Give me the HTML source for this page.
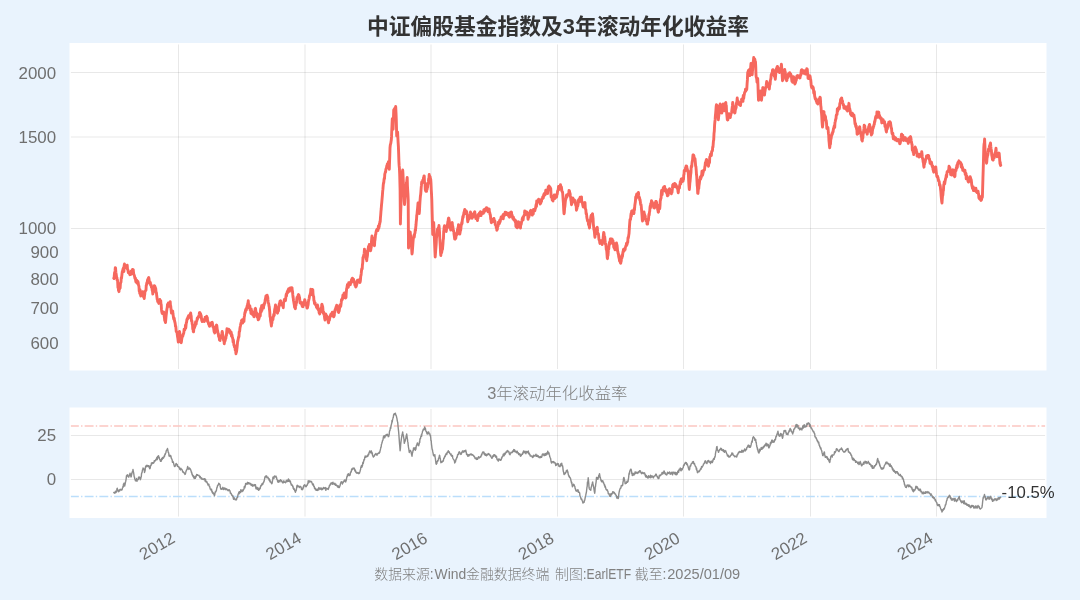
<!DOCTYPE html>
<html lang="zh-CN"><head><meta charset="utf-8"><title>中证偏股基金指数及3年滚动年化收益率</title>
<style>html,body{margin:0;padding:0;background:#e9f3fd;}body{width:1080px;height:600px;overflow:hidden;}</style>
</head><body>
<svg width="1080" height="600" viewBox="0 0 1080 600" style="display:block;font-family:'Liberation Sans','Noto Sans CJK SC',sans-serif">
<rect width="1080" height="600" fill="#e9f3fd"/>
<rect x="69.5" y="43.0" width="977.0" height="327.5" fill="#fff"/>
<rect x="69.5" y="407.5" width="977.0" height="110.5" fill="#fff"/>
<path d="M178.5,44.4V369.1M178.5,408.9V516.6M305.0,44.4V369.1M305.0,408.9V516.6M431.0,44.4V369.1M431.0,408.9V516.6M557.5,44.4V369.1M557.5,408.9V516.6M683.5,44.4V369.1M683.5,408.9V516.6M810.5,44.4V369.1M810.5,408.9V516.6M936.5,44.4V369.1M936.5,408.9V516.6" fill="none" stroke="#e8e8e8" stroke-width="1.06"/>
<path d="M70.9,72.5H1045.1M70.9,137.0H1045.1M70.9,228.5H1045.1M70.9,435.5H1045.1M70.9,479.5H1045.1" fill="none" stroke="#000" stroke-opacity="0.09" stroke-width="1.06"/>
<clipPath id="cb"><rect x="70.9" y="407.5" width="974.2" height="110.5"/></clipPath>
<g clip-path="url(#cb)" fill="none" stroke-width="1.39" stroke-dasharray="8.89 2.22 1.39 2.22">
<path d="M69.95,426H1047" stroke="#fcc6c1"/>
<path d="M69.95,496.5H1047" stroke="#bbdefb"/>
</g>
<path d="M113.80,492.40 L114.07,492.62 L114.34,493.23 L114.61,492.74 L114.89,492.77 L115.16,492.38 L115.43,491.25 L115.70,492.70 L115.95,492.11 L116.20,492.15 L116.45,491.50 L116.70,490.65 L116.95,488.73 L117.20,488.20 L117.47,489.36 L117.75,490.61 L118.03,490.01 L118.30,491.70 L118.57,490.93 L118.84,491.65 L119.11,490.20 L119.39,490.85 L119.66,490.85 L119.93,489.34 L120.20,489.70 L120.49,489.69 L120.77,489.32 L121.06,490.01 L121.34,489.81 L121.63,489.95 L121.91,489.98 L122.20,489.30 L122.45,487.94 L122.70,487.44 L122.95,486.52 L123.20,487.10 L123.45,484.17 L123.70,484.50 L123.95,483.15 L124.20,483.17 L124.45,485.71 L124.70,486.00 L124.95,484.72 L125.20,483.73 L125.45,482.20 L125.70,481.24 L125.95,480.03 L126.20,478.50 L126.47,475.71 L126.75,475.91 L127.03,476.07 L127.30,474.70 L127.60,475.81 L127.90,475.88 L128.20,476.59 L128.50,477.00 L128.75,477.04 L129.00,475.95 L129.25,474.75 L129.50,475.55 L129.75,474.93 L130.00,473.20 L130.25,474.00 L130.50,475.67 L130.75,475.30 L131.00,477.00 L131.29,476.35 L131.57,474.73 L131.86,473.53 L132.14,472.12 L132.43,471.60 L132.71,470.90 L133.00,469.50 L133.30,471.28 L133.60,472.68 L133.90,474.49 L134.20,477.00 L134.45,476.92 L134.70,478.67 L134.95,479.25 L135.20,479.89 L135.45,480.74 L135.70,480.70 L135.96,480.57 L136.21,480.54 L136.47,478.53 L136.73,480.49 L136.99,481.29 L137.24,479.56 L137.50,480.00 L137.75,479.20 L138.00,479.55 L138.25,479.56 L138.50,477.25 L138.75,478.35 L139.00,477.00 L139.25,477.04 L139.50,478.06 L139.75,477.58 L140.00,477.93 L140.25,479.75 L140.50,479.20 L140.76,478.66 L141.01,476.94 L141.27,476.82 L141.53,473.79 L141.79,472.80 L142.04,472.65 L142.30,471.00 L142.55,469.72 L142.80,469.53 L143.05,467.95 L143.30,469.15 L143.55,469.52 L143.80,468.70 L144.03,469.35 L144.27,469.90 L144.50,472.50 L144.80,471.64 L145.10,470.66 L145.40,467.34 L145.70,466.50 L145.96,466.42 L146.21,465.41 L146.47,466.75 L146.72,465.49 L146.98,466.52 L147.23,466.26 L147.49,465.42 L147.74,465.51 L148.00,465.70 L148.27,465.70 L148.54,466.77 L148.81,465.70 L149.09,466.26 L149.36,466.21 L149.63,468.67 L149.90,468.70 L150.16,468.18 L150.41,466.77 L150.67,465.38 L150.92,465.10 L151.18,465.19 L151.43,462.95 L151.69,463.52 L151.94,463.81 L152.20,462.70 L152.46,463.61 L152.71,462.80 L152.97,462.96 L153.23,463.18 L153.49,462.39 L153.74,462.77 L154.00,462.70 L154.28,460.70 L154.55,461.40 L154.82,461.03 L155.10,460.45 L155.38,460.72 L155.65,459.78 L155.92,459.74 L156.20,459.00 L156.46,459.83 L156.71,457.63 L156.97,458.75 L157.22,459.63 L157.48,456.44 L157.73,457.27 L157.99,458.00 L158.24,456.24 L158.50,455.70 L158.77,456.49 L159.04,457.02 L159.31,457.80 L159.59,459.23 L159.86,459.57 L160.13,459.99 L160.40,461.20 L160.66,460.70 L160.92,459.64 L161.18,461.31 L161.44,460.59 L161.70,458.55 L161.96,459.47 L162.22,459.42 L162.48,457.56 L162.74,457.64 L163.00,457.50 L163.28,458.26 L163.55,457.53 L163.82,457.53 L164.10,456.22 L164.38,455.59 L164.65,456.27 L164.92,454.04 L165.20,454.50 L165.46,453.36 L165.71,453.32 L165.97,452.37 L166.22,450.90 L166.48,450.29 L166.73,450.14 L166.99,449.51 L167.24,449.21 L167.50,448.50 L167.75,450.00 L168.00,450.92 L168.25,452.49 L168.50,452.43 L168.75,453.26 L169.00,456.00 L169.26,455.96 L169.51,455.20 L169.77,455.99 L170.03,456.55 L170.29,455.78 L170.54,455.39 L170.80,456.00 L171.07,456.80 L171.34,458.33 L171.61,458.51 L171.88,459.37 L172.15,459.73 L172.42,462.19 L172.69,462.23 L172.96,461.44 L173.23,462.04 L173.50,462.70 L173.75,464.18 L174.00,464.63 L174.25,465.86 L174.50,466.45 L174.75,466.46 L175.00,466.50 L175.30,465.76 L175.60,465.61 L175.90,463.74 L176.20,463.50 L176.46,464.28 L176.71,464.57 L176.97,464.61 L177.23,464.41 L177.49,466.31 L177.74,465.95 L178.00,466.50 L178.27,466.60 L178.55,466.91 L178.82,466.74 L179.09,467.33 L179.36,468.09 L179.64,469.00 L179.91,468.74 L180.18,469.56 L180.45,469.94 L180.73,468.19 L181.00,468.70 L181.28,469.11 L181.55,469.22 L181.82,469.38 L182.10,470.09 L182.38,470.27 L182.65,471.92 L182.92,471.75 L183.20,471.70 L183.49,472.47 L183.77,472.88 L184.06,472.58 L184.34,472.98 L184.63,473.27 L184.91,474.43 L185.20,474.30 L185.48,473.48 L185.76,472.44 L186.03,471.12 L186.31,470.86 L186.59,469.80 L186.87,469.61 L187.14,469.15 L187.42,467.53 L187.70,466.50 L187.96,468.88 L188.21,467.72 L188.47,468.85 L188.72,468.75 L188.98,469.41 L189.23,468.48 L189.49,467.98 L189.74,468.63 L190.00,468.70 L190.28,468.90 L190.55,469.37 L190.82,470.21 L191.10,471.04 L191.38,472.42 L191.65,472.01 L191.92,474.09 L192.20,474.00 L192.46,475.36 L192.71,476.08 L192.97,475.71 L193.22,475.50 L193.48,477.23 L193.73,476.81 L193.99,477.61 L194.24,478.51 L194.50,477.70 L194.77,476.82 L195.05,476.19 L195.32,478.30 L195.59,476.94 L195.86,477.08 L196.14,476.33 L196.41,476.06 L196.68,474.49 L196.95,475.41 L197.23,474.64 L197.50,474.70 L197.78,475.39 L198.05,475.22 L198.32,475.42 L198.60,475.45 L198.88,475.25 L199.15,475.91 L199.42,476.38 L199.70,477.00 L199.97,477.71 L200.24,476.37 L200.51,477.77 L200.79,478.11 L201.06,477.56 L201.33,478.59 L201.60,479.01 L201.87,478.12 L202.14,479.01 L202.41,479.19 L202.69,479.14 L202.96,479.23 L203.23,479.06 L203.50,479.20 L203.76,479.47 L204.03,478.72 L204.29,479.51 L204.56,479.54 L204.82,478.67 L205.09,481.08 L205.35,480.67 L205.61,479.52 L205.88,481.89 L206.14,481.39 L206.41,482.01 L206.67,482.13 L206.94,481.77 L207.20,483.00 L207.47,483.09 L207.75,484.00 L208.02,485.01 L208.29,485.14 L208.56,484.21 L208.84,484.17 L209.11,485.64 L209.38,486.69 L209.65,486.39 L209.93,487.62 L210.20,489.00 L210.46,489.13 L210.73,489.18 L210.99,490.08 L211.26,489.46 L211.52,489.14 L211.79,491.03 L212.05,491.96 L212.32,491.65 L212.58,493.12 L212.85,492.47 L213.11,492.60 L213.38,493.82 L213.64,493.44 L213.91,494.15 L214.17,494.82 L214.44,495.72 L214.70,495.00 L214.97,493.19 L215.25,491.77 L215.52,492.16 L215.79,491.37 L216.06,490.84 L216.34,490.79 L216.61,489.16 L216.88,487.95 L217.15,487.36 L217.43,486.07 L217.70,485.20 L217.96,485.55 L218.21,484.88 L218.47,484.47 L218.72,483.30 L218.98,484.27 L219.23,483.69 L219.49,483.95 L219.74,484.48 L220.00,484.50 L220.23,486.57 L220.47,487.61 L220.70,489.00 L220.97,488.51 L221.24,488.72 L221.51,489.16 L221.79,488.55 L222.06,489.18 L222.33,488.57 L222.60,488.12 L222.87,487.31 L223.14,488.35 L223.41,489.22 L223.69,489.58 L223.96,488.40 L224.23,487.89 L224.50,488.20 L224.76,489.05 L225.03,488.37 L225.29,489.07 L225.56,488.36 L225.82,489.71 L226.09,488.70 L226.35,488.91 L226.62,489.02 L226.88,489.04 L227.15,489.79 L227.41,489.66 L227.68,490.16 L227.94,490.45 L228.21,490.82 L228.47,490.00 L228.74,489.80 L229.00,489.70 L229.26,489.85 L229.53,490.34 L229.79,490.86 L230.06,490.95 L230.32,493.10 L230.59,492.67 L230.85,493.55 L231.11,493.37 L231.38,493.97 L231.64,494.86 L231.91,495.34 L232.17,494.97 L232.44,495.78 L232.70,496.50 L232.97,495.90 L233.24,497.82 L233.51,499.20 L233.78,497.32 L234.05,499.01 L234.32,498.02 L234.58,499.08 L234.85,499.04 L235.12,499.78 L235.39,499.28 L235.66,499.70 L235.93,499.33 L236.20,499.80 L236.48,499.83 L236.76,498.44 L237.03,497.67 L237.31,497.14 L237.59,497.34 L237.87,495.45 L238.14,494.16 L238.42,493.96 L238.70,492.70 L238.96,492.06 L239.23,493.74 L239.49,491.72 L239.76,492.50 L240.02,491.48 L240.29,492.34 L240.55,492.63 L240.82,489.78 L241.08,490.97 L241.35,491.05 L241.61,490.83 L241.88,490.25 L242.14,491.68 L242.41,490.58 L242.67,489.87 L242.94,491.00 L243.20,490.50 L243.47,489.85 L243.75,489.46 L244.02,488.79 L244.29,486.52 L244.56,487.57 L244.84,487.77 L245.11,486.61 L245.38,485.54 L245.65,483.39 L245.93,484.65 L246.20,483.70 L246.46,483.82 L246.71,484.02 L246.97,483.89 L247.22,483.05 L247.48,482.31 L247.73,484.02 L247.99,483.18 L248.24,482.85 L248.50,482.70 L248.77,482.83 L249.05,483.73 L249.32,483.20 L249.59,483.03 L249.86,483.61 L250.14,484.11 L250.41,484.21 L250.68,483.37 L250.95,485.11 L251.23,484.28 L251.50,485.30 L251.75,485.63 L252.00,485.40 L252.25,484.46 L252.50,485.69 L252.75,486.29 L253.00,486.00 L253.28,485.47 L253.55,485.27 L253.82,485.41 L254.10,484.55 L254.38,485.50 L254.65,485.69 L254.92,484.82 L255.20,485.20 L255.45,484.70 L255.70,487.17 L255.95,488.73 L256.20,486.97 L256.45,488.24 L256.70,488.70 L256.96,488.76 L257.21,489.26 L257.47,489.18 L257.72,487.53 L257.98,489.33 L258.23,489.77 L258.49,490.29 L258.74,489.28 L259.00,490.20 L259.25,488.27 L259.50,489.40 L259.75,489.09 L260.00,488.40 L260.25,488.27 L260.50,486.70 L260.77,485.79 L261.05,485.22 L261.32,485.83 L261.60,484.63 L261.88,484.95 L262.15,483.48 L262.43,483.46 L262.70,484.50 L262.96,483.51 L263.21,482.93 L263.47,482.76 L263.72,482.12 L263.98,481.62 L264.23,480.79 L264.49,479.31 L264.74,478.03 L265.00,477.00 L265.27,476.39 L265.54,476.99 L265.81,476.04 L266.08,476.36 L266.35,476.05 L266.62,476.00 L266.89,477.75 L267.16,477.88 L267.43,477.10 L267.70,477.30 L267.98,477.21 L268.26,478.15 L268.53,478.48 L268.81,479.01 L269.09,480.21 L269.37,478.94 L269.64,479.72 L269.92,481.73 L270.20,480.70 L270.45,482.16 L270.70,481.88 L270.95,482.20 L271.20,482.21 L271.45,483.45 L271.70,483.70 L271.95,483.56 L272.20,482.72 L272.45,480.81 L272.70,479.64 L272.95,477.25 L273.20,477.00 L273.46,477.80 L273.71,477.10 L273.97,478.42 L274.22,476.73 L274.48,475.97 L274.73,476.52 L274.99,476.16 L275.24,476.13 L275.50,476.70 L275.77,476.98 L276.05,476.15 L276.32,477.63 L276.59,477.52 L276.86,479.40 L277.14,479.35 L277.41,480.21 L277.68,481.93 L277.95,480.41 L278.23,480.81 L278.50,482.20 L278.77,481.35 L279.05,480.86 L279.32,480.72 L279.60,481.57 L279.88,481.81 L280.15,480.71 L280.43,479.76 L280.70,480.00 L280.95,480.24 L281.20,480.68 L281.45,480.83 L281.70,481.33 L281.95,481.03 L282.20,482.20 L282.47,482.72 L282.75,482.62 L283.02,482.02 L283.29,482.88 L283.56,481.51 L283.84,480.84 L284.11,481.23 L284.38,481.86 L284.65,482.40 L284.93,482.39 L285.20,482.20 L285.47,482.78 L285.75,481.73 L286.02,481.94 L286.29,480.41 L286.56,481.81 L286.84,481.38 L287.11,480.13 L287.38,481.17 L287.65,480.56 L287.93,481.45 L288.20,480.70 L288.46,478.94 L288.71,481.37 L288.97,480.92 L289.22,479.85 L289.48,481.20 L289.73,481.37 L289.99,482.10 L290.24,480.94 L290.50,481.80 L290.77,483.33 L291.05,484.09 L291.32,484.96 L291.60,484.49 L291.88,484.52 L292.15,485.44 L292.43,485.47 L292.70,486.70 L292.97,486.03 L293.24,488.52 L293.51,488.37 L293.78,489.39 L294.05,488.32 L294.32,489.58 L294.59,490.39 L294.86,490.30 L295.13,491.71 L295.40,492.30 L295.66,491.53 L295.91,489.86 L296.17,490.53 L296.43,489.09 L296.69,487.31 L296.94,485.72 L297.20,485.20 L297.47,485.80 L297.75,486.85 L298.02,485.70 L298.29,486.59 L298.56,486.55 L298.84,486.43 L299.11,486.46 L299.38,487.64 L299.65,486.42 L299.93,486.59 L300.20,486.70 L300.46,486.36 L300.71,486.40 L300.97,487.36 L301.22,487.79 L301.48,489.23 L301.73,489.56 L301.99,488.45 L302.24,489.61 L302.50,489.70 L302.76,488.28 L303.01,488.92 L303.27,486.82 L303.53,487.51 L303.79,485.51 L304.04,485.42 L304.30,485.20 L304.57,484.80 L304.84,484.80 L305.11,485.20 L305.39,486.60 L305.66,486.27 L305.93,486.61 L306.20,486.70 L306.46,486.06 L306.71,485.27 L306.97,485.36 L307.22,485.17 L307.48,483.84 L307.73,483.94 L307.99,482.38 L308.24,480.60 L308.50,481.50 L308.77,482.72 L309.05,482.29 L309.32,481.04 L309.59,481.64 L309.86,481.13 L310.14,481.22 L310.41,481.81 L310.68,481.49 L310.95,481.25 L311.23,482.16 L311.50,482.20 L311.77,481.98 L312.05,483.04 L312.32,483.85 L312.60,484.72 L312.88,484.94 L313.15,483.94 L313.43,484.36 L313.70,486.00 L313.97,486.67 L314.25,486.33 L314.52,488.28 L314.79,487.62 L315.06,488.37 L315.34,489.58 L315.61,488.63 L315.88,489.15 L316.15,490.29 L316.43,489.47 L316.70,489.70 L316.97,490.18 L317.24,490.41 L317.51,489.15 L317.79,489.34 L318.06,490.25 L318.33,488.92 L318.60,488.19 L318.87,487.60 L319.14,488.68 L319.41,488.13 L319.69,488.47 L319.96,489.44 L320.23,488.53 L320.50,488.20 L320.76,488.24 L321.03,487.86 L321.29,489.19 L321.56,488.71 L321.82,489.70 L322.09,489.48 L322.35,489.45 L322.61,488.62 L322.88,488.26 L323.14,488.14 L323.41,487.96 L323.67,487.42 L323.94,488.74 L324.20,488.20 L324.47,488.53 L324.74,487.90 L325.01,488.06 L325.29,487.59 L325.56,487.79 L325.83,490.39 L326.10,488.08 L326.37,488.35 L326.64,488.46 L326.91,488.70 L327.19,488.96 L327.46,488.47 L327.73,488.55 L328.00,489.00 L328.27,489.39 L328.55,488.43 L328.82,487.49 L329.10,487.07 L329.38,485.59 L329.65,485.18 L329.93,485.44 L330.20,484.50 L330.47,483.85 L330.75,484.20 L331.02,482.84 L331.29,483.37 L331.56,482.95 L331.84,483.51 L332.11,483.06 L332.38,484.27 L332.65,482.81 L332.93,482.22 L333.20,483.40 L333.47,483.30 L333.75,483.80 L334.02,484.28 L334.29,484.38 L334.56,484.50 L334.84,483.22 L335.11,484.16 L335.38,484.29 L335.65,485.41 L335.93,484.20 L336.20,485.20 L336.46,485.52 L336.72,485.48 L336.98,485.86 L337.24,485.47 L337.50,486.90 L337.76,486.63 L338.02,487.30 L338.28,486.41 L338.54,485.88 L338.80,487.50 L339.07,486.53 L339.34,487.49 L339.61,486.85 L339.88,486.12 L340.15,485.27 L340.42,484.02 L340.69,483.29 L340.96,482.62 L341.23,481.77 L341.50,482.20 L341.77,482.50 L342.05,481.88 L342.32,484.03 L342.59,482.64 L342.86,482.40 L343.14,482.67 L343.41,481.85 L343.68,481.71 L343.95,480.99 L344.23,480.44 L344.50,480.00 L344.75,481.05 L345.00,479.92 L345.25,481.64 L345.50,481.77 L345.75,481.91 L346.00,480.70 L346.25,480.45 L346.50,478.57 L346.75,477.31 L347.00,476.38 L347.25,476.71 L347.50,474.70 L347.77,474.84 L348.05,473.92 L348.32,475.07 L348.60,473.73 L348.88,475.53 L349.15,474.62 L349.43,474.88 L349.70,475.50 L349.96,475.21 L350.21,474.42 L350.47,472.43 L350.72,472.43 L350.98,471.56 L351.23,471.94 L351.49,470.03 L351.74,469.02 L352.00,469.50 L352.25,469.82 L352.50,469.27 L352.75,468.89 L353.00,467.86 L353.25,467.88 L353.50,468.70 L353.77,468.78 L354.05,468.59 L354.32,468.14 L354.60,469.48 L354.88,470.99 L355.15,469.84 L355.43,470.32 L355.70,471.70 L355.97,472.42 L356.25,471.99 L356.52,472.96 L356.79,473.12 L357.06,473.24 L357.34,472.60 L357.61,472.91 L357.88,472.77 L358.15,473.28 L358.43,473.53 L358.70,473.70 L358.97,472.57 L359.25,473.41 L359.52,473.08 L359.79,471.95 L360.06,471.17 L360.34,470.09 L360.61,469.32 L360.88,466.94 L361.15,467.44 L361.43,465.49 L361.70,466.50 L361.95,467.19 L362.20,465.65 L362.45,465.82 L362.70,463.24 L362.95,462.26 L363.20,463.50 L363.45,462.32 L363.70,461.12 L363.95,459.70 L364.20,459.31 L364.45,459.83 L364.70,457.50 L364.96,457.25 L365.21,455.98 L365.47,457.22 L365.72,457.26 L365.98,456.47 L366.23,456.29 L366.49,456.59 L366.74,456.82 L367.00,456.70 L367.27,456.03 L367.55,455.33 L367.82,456.27 L368.10,454.68 L368.38,454.07 L368.65,454.80 L368.93,453.67 L369.20,452.20 L369.46,451.80 L369.71,450.96 L369.97,451.47 L370.22,451.96 L370.48,452.54 L370.73,452.81 L370.99,451.86 L371.24,450.83 L371.50,451.50 L371.77,452.64 L372.05,453.82 L372.32,453.01 L372.60,455.44 L372.88,456.04 L373.15,456.47 L373.43,457.10 L373.70,456.00 L373.97,456.46 L374.25,456.01 L374.52,455.47 L374.79,454.69 L375.06,454.57 L375.34,453.93 L375.61,454.55 L375.88,453.52 L376.15,454.32 L376.43,454.21 L376.70,454.50 L376.97,455.24 L377.25,454.03 L377.52,453.75 L377.79,453.78 L378.06,453.62 L378.34,453.09 L378.61,453.20 L378.88,453.25 L379.15,453.34 L379.43,451.93 L379.70,452.70 L379.99,451.19 L380.27,450.07 L380.56,448.92 L380.84,447.14 L381.13,447.29 L381.41,444.47 L381.70,444.00 L381.96,442.64 L382.23,442.10 L382.49,440.56 L382.75,440.44 L383.01,439.72 L383.27,437.76 L383.54,436.26 L383.80,436.50 L384.07,435.67 L384.34,437.26 L384.61,437.86 L384.89,437.24 L385.16,436.58 L385.43,435.24 L385.70,435.70 L385.95,435.20 L386.20,435.11 L386.45,434.59 L386.70,435.49 L386.95,434.71 L387.20,434.20 L387.45,434.29 L387.70,434.88 L387.95,434.88 L388.20,436.67 L388.45,435.78 L388.70,436.50 L388.95,435.16 L389.20,434.41 L389.45,431.58 L389.70,430.70 L389.95,430.54 L390.20,429.00 L390.46,427.27 L390.71,428.32 L390.97,426.37 L391.22,425.16 L391.48,424.04 L391.73,423.31 L391.99,420.49 L392.24,421.99 L392.50,420.00 L392.77,418.92 L393.04,417.59 L393.31,417.51 L393.59,414.91 L393.86,414.29 L394.13,413.66 L394.40,413.70 L394.66,414.65 L394.91,413.35 L395.17,414.49 L395.43,413.26 L395.69,414.76 L395.94,415.32 L396.20,415.50 L396.45,416.40 L396.70,417.61 L396.95,418.58 L397.20,420.28 L397.45,421.47 L397.70,422.20 L398.00,425.73 L398.30,428.75 L398.60,431.40 L398.90,435.00 L399.20,439.08 L399.50,443.36 L399.80,446.68 L400.10,450.70 L400.38,448.72 L400.66,444.75 L400.94,442.14 L401.22,440.17 L401.50,438.00 L401.80,436.06 L402.10,435.07 L402.40,433.32 L402.70,432.00 L402.96,433.95 L403.21,434.82 L403.47,436.34 L403.73,437.83 L403.99,439.42 L404.24,443.29 L404.50,443.00 L404.77,440.67 L405.05,441.26 L405.32,440.05 L405.60,438.85 L405.88,438.53 L406.15,435.81 L406.43,435.43 L406.70,434.00 L406.95,435.54 L407.20,437.75 L407.45,439.19 L407.70,441.64 L407.95,442.40 L408.20,445.20 L408.48,447.27 L408.75,448.57 L409.02,450.76 L409.30,452.50 L409.55,450.88 L409.80,450.74 L410.05,450.88 L410.30,450.31 L410.55,451.02 L410.80,451.00 L411.10,451.95 L411.40,453.81 L411.70,454.79 L412.00,456.20 L412.26,454.14 L412.51,452.69 L412.77,452.11 L413.03,450.34 L413.29,450.33 L413.54,447.86 L413.80,448.00 L414.07,447.96 L414.33,448.64 L414.60,449.52 L414.87,448.83 L415.13,447.73 L415.40,450.20 L415.66,448.24 L415.91,449.07 L416.17,446.73 L416.43,445.47 L416.69,445.49 L416.94,444.26 L417.20,443.50 L417.45,442.85 L417.70,444.69 L417.95,444.79 L418.20,444.39 L418.45,444.21 L418.70,445.70 L418.95,444.32 L419.20,443.99 L419.45,441.74 L419.70,442.50 L419.95,438.75 L420.20,439.00 L420.49,438.76 L420.77,436.75 L421.06,436.00 L421.34,434.81 L421.63,436.21 L421.91,433.67 L422.20,433.00 L422.47,431.62 L422.75,430.93 L423.02,430.47 L423.30,429.23 L423.57,429.86 L423.85,429.43 L424.12,429.74 L424.40,428.50 L424.66,426.89 L424.92,428.27 L425.18,427.94 L425.44,428.56 L425.70,430.17 L425.96,430.93 L426.22,431.64 L426.48,431.54 L426.74,432.79 L427.00,433.70 L427.26,432.51 L427.51,433.08 L427.77,434.01 L428.03,433.55 L428.29,431.94 L428.54,431.92 L428.80,432.20 L429.07,433.70 L429.34,433.68 L429.61,433.79 L429.89,433.92 L430.16,435.62 L430.43,435.55 L430.70,437.50 L430.95,440.69 L431.20,440.53 L431.45,444.07 L431.70,445.96 L431.95,448.10 L432.20,449.50 L432.45,449.77 L432.70,451.39 L432.95,452.62 L433.20,453.87 L433.45,455.37 L433.70,455.50 L433.98,456.06 L434.25,455.11 L434.52,455.11 L434.80,454.70 L435.10,457.10 L435.40,458.86 L435.70,461.24 L436.00,463.70 L436.27,464.29 L436.55,462.68 L436.82,463.63 L437.10,461.54 L437.38,461.45 L437.65,460.51 L437.93,461.04 L438.20,460.00 L438.45,458.89 L438.70,457.98 L438.95,458.11 L439.20,456.69 L439.45,455.27 L439.70,455.50 L440.00,457.82 L440.30,458.47 L440.60,461.10 L440.90,462.70 L441.16,462.07 L441.42,461.99 L441.68,461.47 L441.94,462.19 L442.20,461.78 L442.46,461.80 L442.72,460.90 L442.98,461.45 L443.24,461.01 L443.50,460.00 L443.77,458.46 L444.05,457.97 L444.32,457.98 L444.60,456.83 L444.88,456.02 L445.15,456.56 L445.43,455.14 L445.70,454.70 L445.96,454.51 L446.21,453.44 L446.47,454.38 L446.72,454.46 L446.98,453.65 L447.23,452.35 L447.49,452.02 L447.74,452.37 L448.00,451.70 L448.27,450.79 L448.55,451.96 L448.82,452.28 L449.10,452.49 L449.38,451.93 L449.65,453.37 L449.93,453.45 L450.20,454.00 L450.49,453.90 L450.77,454.84 L451.06,453.92 L451.34,455.74 L451.63,456.04 L451.91,456.22 L452.20,455.50 L452.48,455.61 L452.76,457.94 L453.03,458.56 L453.31,458.97 L453.59,459.35 L453.87,459.77 L454.14,460.23 L454.42,460.90 L454.70,463.00 L454.96,462.44 L455.21,461.80 L455.47,461.97 L455.72,460.58 L455.98,458.96 L456.23,459.04 L456.49,459.01 L456.74,457.30 L457.00,457.00 L457.27,457.14 L457.55,454.74 L457.82,454.50 L458.10,454.24 L458.38,454.50 L458.65,452.68 L458.93,452.41 L459.20,451.70 L459.45,452.63 L459.70,452.11 L459.95,452.86 L460.20,454.03 L460.45,453.13 L460.70,454.00 L460.96,454.45 L461.21,453.50 L461.47,453.70 L461.72,452.27 L461.98,452.64 L462.23,452.15 L462.49,450.95 L462.74,451.62 L463.00,451.00 L463.28,451.40 L463.56,452.20 L463.83,451.92 L464.11,451.89 L464.39,450.75 L464.67,451.04 L464.94,451.46 L465.22,451.35 L465.50,450.70 L465.76,450.15 L466.01,452.14 L466.27,451.97 L466.52,454.47 L466.78,453.77 L467.03,454.45 L467.29,454.32 L467.54,455.51 L467.80,456.20 L468.07,456.13 L468.34,455.27 L468.61,454.64 L468.88,456.04 L469.15,455.06 L469.42,454.85 L469.69,454.39 L469.96,454.98 L470.23,454.53 L470.50,454.30 L470.77,453.85 L471.05,453.96 L471.32,454.80 L471.59,454.52 L471.86,454.33 L472.14,455.17 L472.41,454.69 L472.68,454.76 L472.95,455.18 L473.23,455.27 L473.50,455.50 L473.76,456.20 L474.03,455.91 L474.29,456.78 L474.56,456.75 L474.82,457.31 L475.09,458.55 L475.35,458.59 L475.61,458.37 L475.88,458.29 L476.14,458.08 L476.41,459.43 L476.67,458.91 L476.94,458.00 L477.20,459.20 L477.47,459.23 L477.75,458.83 L478.02,458.04 L478.29,457.78 L478.56,456.67 L478.84,457.35 L479.11,457.26 L479.38,457.96 L479.65,457.16 L479.93,457.31 L480.20,457.00 L480.47,456.47 L480.75,457.01 L481.02,456.31 L481.29,455.07 L481.56,454.59 L481.84,455.01 L482.11,453.19 L482.38,452.91 L482.65,452.20 L482.93,452.03 L483.20,452.20 L483.47,452.78 L483.75,451.88 L484.02,453.99 L484.29,452.96 L484.56,454.26 L484.84,454.86 L485.11,453.89 L485.38,455.37 L485.65,453.84 L485.93,453.84 L486.20,454.70 L486.47,455.86 L486.75,455.02 L487.02,454.77 L487.29,454.59 L487.56,454.98 L487.84,454.71 L488.11,453.51 L488.38,454.21 L488.65,453.62 L488.93,454.20 L489.20,454.00 L489.47,454.72 L489.75,454.99 L490.02,455.47 L490.29,456.04 L490.56,455.27 L490.84,456.56 L491.11,456.98 L491.38,457.31 L491.65,457.84 L491.93,458.38 L492.20,457.00 L492.47,457.94 L492.75,456.08 L493.02,455.79 L493.29,456.04 L493.56,456.31 L493.84,454.61 L494.11,455.72 L494.38,454.64 L494.65,455.56 L494.93,455.98 L495.20,455.20 L495.46,455.74 L495.71,457.13 L495.97,457.06 L496.22,457.53 L496.48,456.15 L496.73,458.18 L496.99,459.29 L497.24,459.61 L497.50,460.00 L497.77,459.27 L498.05,459.22 L498.32,461.11 L498.59,459.83 L498.86,459.00 L499.14,459.15 L499.41,459.08 L499.68,459.30 L499.95,460.06 L500.23,460.25 L500.50,460.40 L500.77,460.20 L501.05,460.10 L501.32,459.30 L501.60,457.71 L501.88,457.98 L502.15,456.76 L502.43,456.68 L502.70,456.20 L502.97,456.13 L503.25,454.20 L503.52,454.49 L503.79,454.68 L504.06,455.76 L504.34,453.11 L504.61,454.71 L504.88,454.38 L505.15,454.13 L505.43,453.71 L505.70,453.20 L505.96,451.84 L506.21,451.83 L506.47,452.16 L506.72,451.98 L506.98,452.15 L507.23,450.46 L507.49,451.33 L507.74,450.95 L508.00,451.00 L508.26,451.10 L508.51,451.86 L508.77,451.64 L509.03,451.98 L509.29,453.93 L509.54,453.54 L509.80,454.70 L510.06,454.79 L510.32,453.30 L510.58,453.25 L510.85,453.05 L511.11,452.16 L511.37,452.41 L511.63,452.74 L511.89,452.57 L512.15,452.56 L512.42,452.12 L512.68,451.40 L512.94,450.74 L513.20,450.70 L513.47,451.43 L513.74,449.57 L514.01,450.64 L514.29,451.48 L514.56,449.80 L514.83,451.18 L515.10,451.54 L515.37,451.71 L515.64,451.12 L515.91,452.20 L516.19,452.36 L516.46,451.48 L516.73,452.88 L517.00,452.50 L517.26,451.27 L517.53,452.85 L517.79,452.88 L518.06,453.16 L518.32,452.82 L518.59,454.48 L518.85,453.99 L519.11,453.64 L519.38,453.65 L519.64,454.73 L519.91,453.90 L520.17,454.22 L520.44,456.28 L520.70,455.20 L520.96,455.90 L521.21,455.86 L521.47,454.77 L521.72,454.86 L521.98,454.20 L522.23,453.63 L522.49,454.27 L522.74,453.38 L523.00,452.20 L523.26,452.81 L523.53,450.91 L523.79,451.63 L524.06,451.51 L524.32,452.73 L524.59,451.36 L524.85,451.82 L525.11,451.34 L525.38,452.27 L525.64,453.22 L525.91,453.76 L526.17,451.75 L526.44,452.42 L526.70,451.40 L526.97,452.42 L527.25,451.84 L527.52,452.58 L527.79,451.49 L528.06,451.41 L528.34,451.09 L528.61,453.75 L528.88,453.05 L529.15,452.94 L529.43,454.44 L529.70,454.70 L529.97,454.27 L530.25,456.04 L530.52,456.12 L530.79,456.13 L531.06,456.07 L531.34,455.96 L531.61,455.95 L531.88,456.31 L532.15,456.23 L532.43,457.57 L532.70,457.00 L532.97,457.31 L533.24,456.60 L533.51,455.30 L533.79,456.48 L534.06,456.07 L534.33,455.82 L534.60,455.41 L534.87,455.62 L535.14,455.91 L535.41,455.84 L535.69,455.18 L535.96,454.22 L536.23,456.25 L536.50,455.50 L536.76,456.23 L537.03,455.14 L537.29,456.25 L537.56,455.52 L537.82,456.47 L538.09,456.80 L538.35,455.87 L538.61,457.05 L538.88,457.19 L539.14,457.45 L539.41,457.43 L539.67,457.15 L539.94,456.81 L540.20,457.70 L540.47,456.44 L540.75,457.43 L541.02,457.27 L541.29,456.73 L541.56,457.36 L541.84,456.63 L542.11,455.14 L542.38,454.17 L542.65,453.89 L542.93,454.76 L543.20,454.30 L543.47,454.02 L543.75,454.54 L544.02,455.56 L544.29,454.40 L544.56,455.40 L544.84,455.45 L545.11,453.55 L545.38,454.60 L545.65,455.15 L545.93,453.79 L546.20,454.70 L546.46,454.81 L546.71,454.33 L546.97,452.62 L547.22,453.21 L547.48,453.31 L547.73,451.15 L547.99,453.86 L548.24,452.32 L548.50,452.50 L548.75,452.58 L549.00,452.99 L549.25,454.41 L549.50,455.06 L549.75,456.58 L550.00,457.00 L550.25,457.71 L550.50,458.24 L550.75,459.51 L551.00,461.40 L551.25,462.20 L551.50,463.00 L551.77,462.97 L552.05,461.82 L552.33,462.00 L552.60,461.76 L552.88,461.71 L553.15,461.57 L553.43,462.28 L553.70,461.70 L553.96,462.80 L554.21,462.08 L554.47,462.39 L554.72,462.85 L554.98,462.78 L555.23,462.91 L555.49,464.37 L555.74,465.54 L556.00,464.70 L556.27,464.56 L556.55,464.16 L556.83,465.13 L557.10,463.37 L557.38,464.48 L557.65,464.28 L557.93,463.57 L558.20,463.70 L558.45,464.54 L558.70,465.18 L558.95,466.29 L559.20,466.03 L559.45,466.40 L559.70,466.20 L559.99,466.75 L560.27,465.80 L560.56,463.94 L560.84,465.12 L561.13,465.60 L561.41,463.98 L561.70,463.20 L561.98,464.87 L562.26,465.89 L562.53,465.70 L562.81,467.14 L563.09,469.87 L563.37,471.55 L563.64,472.29 L563.92,474.22 L564.20,474.50 L564.46,473.50 L564.72,473.84 L564.98,472.88 L565.24,473.72 L565.50,472.55 L565.76,472.84 L566.02,472.19 L566.28,470.78 L566.54,471.10 L566.80,470.70 L567.07,470.20 L567.34,470.04 L567.61,472.24 L567.89,471.85 L568.16,473.84 L568.43,475.10 L568.70,475.20 L568.99,476.65 L569.27,476.17 L569.56,477.30 L569.84,477.14 L570.13,477.92 L570.41,477.99 L570.70,479.30 L570.95,480.48 L571.20,481.69 L571.45,482.99 L571.70,482.10 L571.95,484.03 L572.20,485.70 L572.46,486.72 L572.71,485.53 L572.97,485.53 L573.23,485.65 L573.49,484.24 L573.74,484.60 L574.00,484.70 L574.27,485.19 L574.55,486.12 L574.83,486.46 L575.10,488.30 L575.38,488.74 L575.65,489.99 L575.93,490.90 L576.20,490.20 L576.47,490.46 L576.75,491.28 L577.02,490.57 L577.29,489.98 L577.56,490.95 L577.84,490.87 L578.11,489.82 L578.38,492.35 L578.65,491.27 L578.93,492.04 L579.20,492.50 L579.46,492.48 L579.71,493.42 L579.97,496.05 L580.22,496.21 L580.48,497.03 L580.73,497.39 L580.99,499.09 L581.24,499.23 L581.50,499.20 L581.77,499.09 L582.04,500.34 L582.31,501.00 L582.59,501.45 L582.86,502.97 L583.13,502.59 L583.40,502.70 L583.66,501.91 L583.91,502.29 L584.17,502.26 L584.43,499.88 L584.69,500.35 L584.94,499.19 L585.20,497.70 L585.45,496.15 L585.70,495.44 L585.95,494.23 L586.20,493.00 L586.45,491.85 L586.70,489.50 L586.95,487.24 L587.20,486.35 L587.45,481.99 L587.70,481.57 L587.95,481.06 L588.20,477.80 L588.48,480.46 L588.75,483.33 L589.02,487.20 L589.30,488.70 L589.55,489.22 L589.80,489.26 L590.05,489.55 L590.30,489.97 L590.55,489.19 L590.80,490.20 L591.07,487.99 L591.34,486.84 L591.61,486.37 L591.89,484.48 L592.16,484.52 L592.43,482.57 L592.70,482.00 L592.99,484.59 L593.27,485.01 L593.56,486.76 L593.84,488.33 L594.13,490.23 L594.41,491.75 L594.70,493.20 L594.96,491.31 L595.21,486.95 L595.47,486.71 L595.73,484.11 L595.99,482.85 L596.24,480.61 L596.50,477.50 L596.75,478.86 L597.00,477.43 L597.25,478.22 L597.50,478.35 L597.75,479.36 L598.00,479.00 L598.25,477.23 L598.50,477.84 L598.75,475.40 L599.00,476.30 L599.25,474.34 L599.50,473.70 L599.75,475.09 L600.00,477.12 L600.25,477.17 L600.50,478.45 L600.75,479.21 L601.00,480.50 L601.27,480.13 L601.55,481.73 L601.83,480.76 L602.10,481.17 L602.38,481.47 L602.65,480.63 L602.93,481.18 L603.20,482.70 L603.46,482.30 L603.71,483.17 L603.97,484.04 L604.22,484.12 L604.48,485.52 L604.73,484.90 L604.99,487.11 L605.24,486.27 L605.50,487.20 L605.77,488.20 L606.05,489.46 L606.33,489.39 L606.60,489.75 L606.88,490.21 L607.15,490.56 L607.43,489.89 L607.70,491.00 L607.99,491.65 L608.27,493.68 L608.56,493.42 L608.84,493.87 L609.13,493.79 L609.41,495.06 L609.70,496.20 L609.96,496.35 L610.21,496.11 L610.47,496.42 L610.73,494.33 L610.99,493.61 L611.24,495.10 L611.50,494.00 L611.75,493.55 L612.00,494.19 L612.25,493.27 L612.50,493.17 L612.75,491.59 L613.00,492.50 L613.27,491.81 L613.55,491.99 L613.83,493.12 L614.10,493.01 L614.38,492.46 L614.65,493.78 L614.93,493.93 L615.20,494.00 L615.47,493.87 L615.75,494.79 L616.02,495.30 L616.29,495.31 L616.56,496.36 L616.84,498.10 L617.11,497.36 L617.38,498.07 L617.65,496.80 L617.93,497.22 L618.20,498.50 L618.50,497.61 L618.80,494.27 L619.10,492.38 L619.40,491.00 L619.66,489.91 L619.91,489.08 L620.17,488.80 L620.43,487.96 L620.69,488.04 L620.94,488.03 L621.20,485.70 L621.45,485.95 L621.70,485.70 L621.95,485.76 L622.20,485.07 L622.45,485.68 L622.70,485.00 L622.98,482.02 L623.25,481.23 L623.52,478.25 L623.80,477.50 L624.07,477.92 L624.33,479.37 L624.60,480.27 L624.87,481.10 L625.13,483.80 L625.40,483.50 L625.66,483.08 L625.92,483.42 L626.18,483.38 L626.44,482.72 L626.70,482.34 L626.96,481.21 L627.22,481.30 L627.48,482.30 L627.74,481.53 L628.00,481.70 L628.30,479.39 L628.60,477.80 L628.90,474.58 L629.20,473.00 L629.46,474.04 L629.71,471.38 L629.97,471.14 L630.23,470.34 L630.49,469.33 L630.74,469.90 L631.00,469.20 L631.25,469.79 L631.50,471.19 L631.75,473.46 L632.00,473.19 L632.25,475.54 L632.50,475.20 L632.77,475.12 L633.05,473.23 L633.33,473.72 L633.60,473.70 L633.88,475.15 L634.15,474.61 L634.43,474.10 L634.70,473.70 L634.96,472.53 L635.21,471.80 L635.47,473.59 L635.72,472.37 L635.98,472.46 L636.23,472.30 L636.49,473.06 L636.74,472.37 L637.00,473.00 L637.27,473.45 L637.54,473.04 L637.81,472.21 L638.08,472.03 L638.35,472.04 L638.62,472.86 L638.89,471.43 L639.16,471.68 L639.43,471.20 L639.70,470.70 L639.96,471.36 L640.21,472.01 L640.47,471.04 L640.73,471.80 L640.99,472.29 L641.24,473.12 L641.50,473.70 L641.77,473.23 L642.05,472.72 L642.33,472.29 L642.60,473.12 L642.88,472.61 L643.15,473.49 L643.43,473.13 L643.70,473.00 L643.97,473.11 L644.25,473.60 L644.52,472.80 L644.79,473.41 L645.06,475.22 L645.34,474.60 L645.61,476.90 L645.88,475.14 L646.15,475.70 L646.43,475.42 L646.70,477.20 L646.97,477.19 L647.25,477.46 L647.52,477.69 L647.79,476.65 L648.06,478.16 L648.34,476.68 L648.61,475.60 L648.88,476.57 L649.15,476.56 L649.43,477.20 L649.70,476.70 L649.97,477.45 L650.24,475.94 L650.51,475.16 L650.79,477.80 L651.06,476.83 L651.33,476.27 L651.60,475.92 L651.87,477.14 L652.14,475.83 L652.41,476.65 L652.69,476.57 L652.96,476.81 L653.23,477.74 L653.50,477.80 L653.77,476.51 L654.04,476.17 L654.31,476.12 L654.58,476.14 L654.85,475.71 L655.12,475.66 L655.39,475.68 L655.66,474.21 L655.93,475.08 L656.20,474.20 L656.46,475.18 L656.73,475.84 L656.99,476.46 L657.25,476.22 L657.51,477.67 L657.77,477.37 L658.04,477.17 L658.30,478.50 L658.57,478.04 L658.84,478.49 L659.11,477.44 L659.38,475.15 L659.65,475.49 L659.92,475.43 L660.19,475.75 L660.46,474.91 L660.73,475.41 L661.00,474.80 L661.27,474.26 L661.55,473.88 L661.82,473.31 L662.09,472.55 L662.36,474.06 L662.64,472.55 L662.91,473.13 L663.18,473.65 L663.45,472.30 L663.73,472.26 L664.00,471.00 L664.27,471.19 L664.55,472.66 L664.82,473.48 L665.09,472.72 L665.36,474.05 L665.64,474.45 L665.91,474.25 L666.18,474.29 L666.45,473.98 L666.73,474.94 L667.00,474.20 L667.27,473.48 L667.55,472.27 L667.82,473.62 L668.09,473.07 L668.36,472.75 L668.64,473.29 L668.91,473.00 L669.18,473.05 L669.45,472.00 L669.73,472.16 L670.00,473.30 L670.26,474.40 L670.53,472.91 L670.79,473.74 L671.06,473.82 L671.32,473.43 L671.59,472.54 L671.85,472.22 L672.11,473.92 L672.38,473.73 L672.64,474.80 L672.91,472.28 L673.17,472.99 L673.44,472.69 L673.70,472.20 L673.97,473.12 L674.24,472.76 L674.51,472.65 L674.79,473.94 L675.06,472.25 L675.33,473.16 L675.60,474.50 L675.87,474.34 L676.14,472.67 L676.41,474.71 L676.69,472.84 L676.96,474.45 L677.23,473.98 L677.50,473.30 L677.77,471.24 L678.05,472.23 L678.33,470.68 L678.60,472.34 L678.88,470.74 L679.15,469.32 L679.43,470.14 L679.70,469.20 L679.97,469.26 L680.25,468.05 L680.52,469.75 L680.79,470.43 L681.06,470.85 L681.34,469.83 L681.61,468.71 L681.88,469.16 L682.15,469.84 L682.43,468.55 L682.70,468.20 L682.97,467.80 L683.25,467.53 L683.52,465.59 L683.79,464.87 L684.06,465.57 L684.34,464.36 L684.61,464.11 L684.88,463.26 L685.15,463.48 L685.43,462.38 L685.70,462.50 L685.95,462.44 L686.20,463.17 L686.45,462.86 L686.70,464.61 L686.95,463.38 L687.20,464.70 L687.49,464.66 L687.77,465.64 L688.06,466.51 L688.34,467.78 L688.63,468.75 L688.91,469.77 L689.20,469.70 L689.46,469.91 L689.71,468.92 L689.97,465.99 L690.23,466.56 L690.49,465.84 L690.74,465.85 L691.00,464.30 L691.27,463.95 L691.55,463.42 L691.83,463.44 L692.10,463.27 L692.38,462.06 L692.65,463.10 L692.93,461.83 L693.20,462.20 L693.46,461.56 L693.71,463.37 L693.97,463.88 L694.22,464.03 L694.48,463.51 L694.73,464.51 L694.99,465.21 L695.24,466.20 L695.50,466.20 L695.77,466.98 L696.05,467.04 L696.33,469.32 L696.60,468.16 L696.88,470.59 L697.15,470.72 L697.43,472.57 L697.70,472.70 L697.96,472.16 L698.21,471.60 L698.47,471.18 L698.72,471.63 L698.98,471.17 L699.23,471.65 L699.49,470.37 L699.74,470.78 L700.00,470.00 L700.27,469.87 L700.55,468.64 L700.83,468.99 L701.10,469.18 L701.38,467.07 L701.65,466.39 L701.93,467.49 L702.20,466.40 L702.46,466.51 L702.71,466.12 L702.97,465.52 L703.22,465.27 L703.48,463.95 L703.73,463.98 L703.99,463.50 L704.24,463.55 L704.50,462.50 L704.77,461.91 L705.05,461.14 L705.32,460.76 L705.59,461.59 L705.86,461.92 L706.14,463.04 L706.41,462.45 L706.68,463.11 L706.95,463.59 L707.23,461.78 L707.50,461.00 L707.77,461.19 L708.05,460.74 L708.33,461.74 L708.60,460.41 L708.88,460.85 L709.15,461.71 L709.43,462.19 L709.70,462.20 L709.97,462.29 L710.25,461.96 L710.52,463.59 L710.79,462.22 L711.06,461.16 L711.34,462.34 L711.61,461.63 L711.88,462.03 L712.15,461.04 L712.43,462.51 L712.70,460.70 L712.96,461.09 L713.21,459.13 L713.47,459.15 L713.72,458.41 L713.98,459.12 L714.23,459.29 L714.49,457.92 L714.74,456.82 L715.00,457.20 L715.26,455.70 L715.51,453.42 L715.77,451.80 L716.03,450.66 L716.29,450.27 L716.54,447.58 L716.80,446.70 L717.05,446.58 L717.30,449.64 L717.55,450.16 L717.80,450.34 L718.05,450.54 L718.30,452.00 L718.57,452.28 L718.83,451.21 L719.10,450.78 L719.37,450.41 L719.63,449.52 L719.90,449.50 L720.17,448.97 L720.43,449.66 L720.70,448.20 L720.98,449.31 L721.26,448.55 L721.53,448.71 L721.81,450.40 L722.09,449.56 L722.37,449.93 L722.64,450.08 L722.92,450.80 L723.20,451.20 L723.46,449.76 L723.71,451.57 L723.97,451.73 L724.22,451.43 L724.48,452.24 L724.73,451.65 L724.99,450.40 L725.24,451.62 L725.50,450.80 L725.77,450.95 L726.05,451.86 L726.33,452.83 L726.60,453.57 L726.88,453.89 L727.15,454.45 L727.43,455.91 L727.70,455.70 L727.96,456.30 L728.21,455.24 L728.47,456.35 L728.72,457.03 L728.98,457.05 L729.23,457.03 L729.49,456.87 L729.74,456.33 L730.00,456.80 L730.27,456.17 L730.54,455.44 L730.81,455.35 L731.08,455.41 L731.35,454.40 L731.62,454.55 L731.89,452.85 L732.16,454.59 L732.43,453.81 L732.70,453.20 L732.96,454.12 L733.23,455.14 L733.49,455.26 L733.75,455.25 L734.01,455.58 L734.27,456.16 L734.54,456.69 L734.80,456.80 L735.07,456.20 L735.34,456.53 L735.61,456.64 L735.88,456.34 L736.15,456.17 L736.42,456.74 L736.69,457.03 L736.96,456.36 L737.23,454.57 L737.50,455.00 L737.77,454.64 L738.05,453.39 L738.33,452.70 L738.60,452.39 L738.88,452.98 L739.15,451.54 L739.43,451.78 L739.70,452.00 L739.97,451.52 L740.25,452.25 L740.52,452.19 L740.79,451.62 L741.06,451.58 L741.34,452.32 L741.61,450.96 L741.88,450.14 L742.15,450.45 L742.43,451.60 L742.70,451.20 L742.97,452.21 L743.25,450.78 L743.52,450.48 L743.79,451.41 L744.06,450.23 L744.34,449.82 L744.61,448.87 L744.88,449.91 L745.15,450.25 L745.43,450.92 L745.70,449.70 L745.96,449.28 L746.22,449.73 L746.48,449.65 L746.74,447.67 L747.00,447.60 L747.26,447.17 L747.52,446.64 L747.78,446.24 L748.04,445.65 L748.30,445.20 L748.57,445.12 L748.84,445.32 L749.11,447.30 L749.39,446.84 L749.66,445.95 L749.93,447.20 L750.20,446.70 L750.45,447.15 L750.70,446.27 L750.95,445.26 L751.20,444.41 L751.45,442.84 L751.70,442.20 L751.96,440.96 L752.21,442.17 L752.47,440.18 L752.73,438.38 L752.99,437.11 L753.24,437.83 L753.50,436.70 L753.78,437.45 L754.07,437.67 L754.35,437.99 L754.63,438.39 L754.92,440.29 L755.20,439.20 L755.45,440.40 L755.70,439.34 L755.95,442.39 L756.20,442.16 L756.45,444.38 L756.70,446.00 L756.96,447.11 L757.21,447.31 L757.47,449.30 L757.73,448.90 L757.99,451.08 L758.24,451.43 L758.50,452.70 L758.77,452.21 L759.05,452.97 L759.33,451.63 L759.60,449.28 L759.88,450.80 L760.15,450.95 L760.43,449.58 L760.70,449.00 L760.97,449.46 L761.25,447.35 L761.52,448.34 L761.79,449.33 L762.06,448.65 L762.34,447.64 L762.61,448.72 L762.88,447.16 L763.15,446.86 L763.43,447.93 L763.70,446.70 L763.96,446.10 L764.22,446.74 L764.48,446.56 L764.74,445.00 L765.00,445.70 L765.26,445.56 L765.52,444.70 L765.78,444.37 L766.04,443.12 L766.30,443.70 L766.57,443.95 L766.84,446.02 L767.11,443.85 L767.38,444.35 L767.65,445.44 L767.92,445.36 L768.19,444.46 L768.46,446.47 L768.73,447.79 L769.00,447.80 L769.27,446.33 L769.55,447.01 L769.82,445.30 L770.09,445.36 L770.36,442.73 L770.64,442.23 L770.91,443.86 L771.18,442.71 L771.45,442.42 L771.73,440.18 L772.00,440.70 L772.27,440.20 L772.55,441.29 L772.83,442.18 L773.10,441.28 L773.38,442.04 L773.65,441.05 L773.93,442.27 L774.20,441.80 L774.46,441.03 L774.71,439.49 L774.97,439.48 L775.22,439.94 L775.48,439.76 L775.73,437.68 L775.99,436.32 L776.24,436.77 L776.50,436.20 L776.80,434.54 L777.10,434.11 L777.40,432.91 L777.70,432.20 L777.96,431.25 L778.21,432.91 L778.47,435.00 L778.73,434.16 L778.99,435.32 L779.24,436.08 L779.50,435.50 L779.77,436.31 L780.05,435.57 L780.33,435.57 L780.60,433.43 L780.88,435.59 L781.15,433.60 L781.43,435.14 L781.70,434.70 L781.97,435.57 L782.23,437.19 L782.50,438.20 L782.75,437.56 L783.00,435.79 L783.25,433.57 L783.50,433.53 L783.75,432.99 L784.00,430.70 L784.27,430.42 L784.55,431.29 L784.83,430.80 L785.10,431.10 L785.38,431.17 L785.65,430.46 L785.93,432.80 L786.20,432.50 L786.45,434.41 L786.70,433.40 L786.95,433.72 L787.20,434.01 L787.45,434.30 L787.70,434.00 L787.97,434.72 L788.24,432.64 L788.51,432.22 L788.78,432.32 L789.05,430.65 L789.32,431.30 L789.59,429.83 L789.86,429.27 L790.13,428.50 L790.40,428.70 L790.66,429.82 L790.91,429.46 L791.17,431.49 L791.42,431.08 L791.68,431.36 L791.93,431.60 L792.19,432.74 L792.44,433.23 L792.70,434.00 L792.96,432.86 L793.23,432.11 L793.49,431.93 L793.75,429.59 L794.01,429.11 L794.27,428.51 L794.54,428.99 L794.80,428.00 L795.07,427.71 L795.34,426.93 L795.61,426.68 L795.88,425.20 L796.15,424.46 L796.42,424.74 L796.69,427.04 L796.96,424.98 L797.23,425.19 L797.50,425.00 L797.76,425.69 L798.01,425.44 L798.27,428.32 L798.53,428.42 L798.79,428.32 L799.04,428.16 L799.30,428.70 L799.57,429.91 L799.83,427.98 L800.10,429.47 L800.37,428.25 L800.63,428.88 L800.90,429.46 L801.17,428.34 L801.43,429.64 L801.70,429.50 L801.96,429.97 L802.21,428.03 L802.47,427.97 L802.73,426.08 L802.99,428.19 L803.24,428.09 L803.50,425.70 L803.75,425.15 L804.00,426.06 L804.25,424.79 L804.50,426.86 L804.75,426.36 L805.00,427.20 L805.27,426.62 L805.55,426.27 L805.83,426.71 L806.10,425.29 L806.38,426.14 L806.65,426.39 L806.93,423.56 L807.20,424.20 L807.46,424.35 L807.71,423.16 L807.97,423.41 L808.22,423.19 L808.48,423.52 L808.73,422.84 L808.99,424.15 L809.24,423.99 L809.50,423.80 L809.75,426.54 L810.00,424.39 L810.25,425.08 L810.50,426.70 L810.75,426.98 L811.00,428.00 L811.27,427.75 L811.55,427.96 L811.83,428.69 L812.10,429.55 L812.38,429.89 L812.65,430.38 L812.93,430.75 L813.20,431.70 L813.46,431.78 L813.71,431.37 L813.97,432.59 L814.22,433.30 L814.48,433.33 L814.73,434.00 L814.99,436.92 L815.24,436.65 L815.50,437.00 L815.77,437.32 L816.05,438.21 L816.33,437.93 L816.60,439.33 L816.88,439.56 L817.15,440.79 L817.43,440.25 L817.70,441.50 L817.96,441.70 L818.21,442.89 L818.47,442.63 L818.72,442.12 L818.98,444.16 L819.23,445.38 L819.49,444.83 L819.74,446.54 L820.00,446.70 L820.26,447.74 L820.51,448.69 L820.77,447.70 L821.03,449.06 L821.29,449.92 L821.54,450.28 L821.80,451.20 L822.10,452.90 L822.40,453.72 L822.70,455.59 L823.00,455.70 L823.30,454.83 L823.60,453.95 L823.90,452.98 L824.20,452.00 L824.45,452.12 L824.70,455.23 L824.95,455.49 L825.20,457.20 L825.46,456.98 L825.71,457.30 L825.97,456.52 L826.22,456.49 L826.48,456.72 L826.73,456.75 L826.99,458.13 L827.24,456.97 L827.50,458.70 L827.77,459.38 L828.05,458.52 L828.33,459.57 L828.60,460.07 L828.88,459.47 L829.15,461.71 L829.43,460.95 L829.70,462.50 L829.95,461.61 L830.20,459.50 L830.45,459.52 L830.70,456.67 L830.95,456.37 L831.20,455.70 L831.46,456.25 L831.71,455.12 L831.97,456.19 L832.22,457.11 L832.48,455.06 L832.73,455.45 L832.99,454.89 L833.24,454.96 L833.50,455.00 L833.75,454.87 L834.00,454.37 L834.25,453.75 L834.50,451.78 L834.75,452.42 L835.00,452.70 L835.26,452.38 L835.51,451.75 L835.77,451.39 L836.03,450.43 L836.29,449.03 L836.54,449.34 L836.80,448.70 L837.07,448.98 L837.34,450.13 L837.61,449.55 L837.88,450.09 L838.15,450.71 L838.42,451.30 L838.69,451.15 L838.96,451.61 L839.23,451.05 L839.50,450.50 L839.78,449.58 L840.06,449.75 L840.33,449.26 L840.61,449.18 L840.89,448.83 L841.17,449.30 L841.44,447.84 L841.72,449.15 L842.00,449.00 L842.27,449.15 L842.54,450.25 L842.81,450.62 L843.08,451.10 L843.35,451.47 L843.62,451.87 L843.89,452.11 L844.16,451.68 L844.43,452.13 L844.70,452.00 L844.97,451.82 L845.25,451.75 L845.52,450.11 L845.79,450.93 L846.06,450.58 L846.34,449.48 L846.61,449.40 L846.88,449.28 L847.15,448.74 L847.43,449.55 L847.70,449.70 L847.96,448.45 L848.21,450.17 L848.47,452.06 L848.72,451.69 L848.98,452.01 L849.23,451.92 L849.49,452.60 L849.74,453.11 L850.00,452.90 L850.27,453.00 L850.55,453.43 L850.83,454.55 L851.10,455.34 L851.38,455.65 L851.65,455.49 L851.93,457.29 L852.20,458.20 L852.46,459.45 L852.71,459.01 L852.97,459.87 L853.22,458.16 L853.48,459.75 L853.73,458.86 L853.99,460.44 L854.24,459.13 L854.50,460.00 L854.77,460.27 L855.05,460.47 L855.33,460.92 L855.60,462.35 L855.88,460.92 L856.15,461.77 L856.43,461.50 L856.70,462.20 L856.96,461.74 L857.21,462.32 L857.47,462.47 L857.72,463.59 L857.98,462.49 L858.23,462.10 L858.49,462.10 L858.74,463.49 L859.00,464.50 L859.30,463.07 L859.60,463.99 L859.90,462.10 L860.20,461.50 L860.46,461.98 L860.71,463.04 L860.97,464.09 L861.23,464.76 L861.49,465.67 L861.74,465.18 L862.00,465.70 L862.27,464.53 L862.55,464.19 L862.83,463.98 L863.10,464.36 L863.38,463.12 L863.65,462.17 L863.93,464.11 L864.20,462.70 L864.47,462.25 L864.74,461.77 L865.01,461.20 L865.29,462.30 L865.56,463.06 L865.83,461.65 L866.10,462.57 L866.37,461.76 L866.64,462.61 L866.91,463.60 L867.19,462.78 L867.46,463.03 L867.73,462.52 L868.00,462.20 L868.26,461.34 L868.53,462.27 L868.79,462.57 L869.06,463.47 L869.32,463.00 L869.59,464.23 L869.85,463.63 L870.11,464.07 L870.38,464.80 L870.64,464.83 L870.91,464.75 L871.17,466.44 L871.44,465.47 L871.70,466.40 L871.97,466.56 L872.25,468.19 L872.52,465.79 L872.79,467.53 L873.06,468.25 L873.34,467.62 L873.61,467.71 L873.88,468.07 L874.15,467.21 L874.43,465.77 L874.70,466.00 L874.99,466.08 L875.27,465.56 L875.56,465.13 L875.84,464.34 L876.13,464.05 L876.41,464.53 L876.70,463.00 L876.95,461.98 L877.20,460.46 L877.45,459.18 L877.70,458.50 L877.95,459.93 L878.20,461.69 L878.45,460.65 L878.70,462.29 L878.95,461.71 L879.20,463.70 L879.46,463.40 L879.71,465.48 L879.97,464.82 L880.22,466.55 L880.48,467.01 L880.73,467.25 L880.99,467.99 L881.24,468.72 L881.50,469.00 L881.77,468.03 L882.05,468.96 L882.33,468.33 L882.60,468.10 L882.88,468.96 L883.15,468.46 L883.43,467.72 L883.70,468.20 L883.99,466.92 L884.27,465.93 L884.56,465.23 L884.84,464.79 L885.13,464.25 L885.41,463.93 L885.70,463.00 L885.98,462.30 L886.26,462.73 L886.53,462.62 L886.81,461.98 L887.09,463.81 L887.37,462.90 L887.64,463.39 L887.92,463.15 L888.20,463.30 L888.47,463.99 L888.75,464.30 L889.02,465.02 L889.29,464.13 L889.56,466.08 L889.84,465.07 L890.11,464.02 L890.38,466.54 L890.65,465.65 L890.93,465.40 L891.20,466.00 L891.46,466.35 L891.71,467.07 L891.97,467.90 L892.22,467.46 L892.48,469.76 L892.73,469.90 L892.99,468.76 L893.24,470.56 L893.50,470.20 L893.77,471.24 L894.05,470.11 L894.33,470.67 L894.60,472.04 L894.88,471.60 L895.15,471.94 L895.43,471.58 L895.70,473.20 L895.95,473.04 L896.20,471.59 L896.45,471.60 L896.70,471.60 L896.95,471.66 L897.20,471.70 L897.46,472.09 L897.71,473.39 L897.97,472.82 L898.22,474.17 L898.48,473.41 L898.73,474.22 L898.99,474.89 L899.24,475.56 L899.50,475.30 L899.77,475.27 L900.04,475.09 L900.31,474.50 L900.58,475.67 L900.85,475.50 L901.12,476.61 L901.39,476.74 L901.66,476.27 L901.93,476.54 L902.20,476.80 L902.46,478.91 L902.71,477.73 L902.97,478.66 L903.23,478.79 L903.49,479.59 L903.74,481.57 L904.00,481.70 L904.25,482.94 L904.50,484.65 L904.75,484.31 L905.00,485.81 L905.25,486.52 L905.50,487.00 L905.77,487.34 L906.05,487.17 L906.33,487.42 L906.60,486.75 L906.88,485.58 L907.15,485.05 L907.43,485.12 L907.70,485.80 L907.97,485.67 L908.25,484.91 L908.52,485.63 L908.79,486.75 L909.06,486.19 L909.34,485.55 L909.61,485.14 L909.88,485.71 L910.15,486.55 L910.43,486.63 L910.70,486.70 L910.97,487.15 L911.25,487.70 L911.52,487.56 L911.79,487.23 L912.06,489.43 L912.34,489.02 L912.61,490.89 L912.88,490.55 L913.15,489.40 L913.43,491.75 L913.70,491.50 L913.99,491.00 L914.27,490.46 L914.56,489.63 L914.84,490.21 L915.13,489.46 L915.41,488.69 L915.70,487.00 L915.98,486.21 L916.26,488.01 L916.53,487.10 L916.81,486.82 L917.09,486.64 L917.37,486.92 L917.64,488.62 L917.92,488.06 L918.20,488.80 L918.47,489.95 L918.75,489.52 L919.02,490.05 L919.29,489.22 L919.56,489.40 L919.84,490.67 L920.11,490.00 L920.38,489.25 L920.65,490.59 L920.93,491.91 L921.20,491.20 L921.47,491.44 L921.74,491.90 L922.01,492.80 L922.29,493.68 L922.56,493.14 L922.83,492.39 L923.10,492.33 L923.37,492.10 L923.64,493.75 L923.91,492.91 L924.19,493.32 L924.46,493.36 L924.73,492.85 L925.00,493.00 L925.26,491.82 L925.53,493.27 L925.79,491.91 L926.06,493.05 L926.32,492.12 L926.59,492.07 L926.85,492.08 L927.11,491.56 L927.38,491.99 L927.64,492.82 L927.91,492.44 L928.17,492.29 L928.44,492.52 L928.70,492.00 L928.97,492.51 L929.25,493.40 L929.52,493.31 L929.79,493.31 L930.06,493.83 L930.34,494.01 L930.61,495.22 L930.88,494.47 L931.15,493.92 L931.43,494.60 L931.70,495.20 L931.97,495.51 L932.25,496.19 L932.52,497.48 L932.79,497.59 L933.06,497.63 L933.34,496.84 L933.61,497.53 L933.88,498.53 L934.15,498.68 L934.43,497.83 L934.70,499.00 L934.96,499.27 L935.21,500.51 L935.47,499.69 L935.72,500.30 L935.98,501.59 L936.23,501.78 L936.49,502.32 L936.74,502.50 L937.00,503.50 L937.27,504.95 L937.55,505.18 L937.83,505.46 L938.10,505.69 L938.38,504.68 L938.65,504.44 L938.93,505.13 L939.20,505.00 L939.45,504.75 L939.70,506.28 L939.95,506.68 L940.20,506.84 L940.45,507.96 L940.70,508.70 L940.95,509.32 L941.20,509.56 L941.45,510.54 L941.70,509.56 L941.95,512.01 L942.20,511.00 L942.46,511.01 L942.71,509.72 L942.97,510.19 L943.22,510.18 L943.48,508.86 L943.73,508.69 L943.99,508.79 L944.24,509.13 L944.50,508.00 L944.77,507.05 L945.05,506.46 L945.33,504.78 L945.60,505.04 L945.88,504.48 L946.15,502.80 L946.43,501.41 L946.70,500.50 L946.95,500.31 L947.20,498.63 L947.45,498.08 L947.70,497.69 L947.95,497.50 L948.20,496.70 L948.45,497.60 L948.70,496.36 L948.95,496.93 L949.20,495.31 L949.45,495.24 L949.70,496.40 L949.96,495.89 L950.21,496.37 L950.47,498.54 L950.72,497.27 L950.98,497.90 L951.23,498.63 L951.49,500.13 L951.74,499.06 L952.00,499.30 L952.27,499.01 L952.55,500.13 L952.83,499.80 L953.10,498.55 L953.38,499.48 L953.65,499.04 L953.93,499.32 L954.20,499.00 L954.49,501.17 L954.77,498.81 L955.06,498.26 L955.34,500.24 L955.63,500.26 L955.91,500.42 L956.20,501.20 L956.48,501.58 L956.76,500.64 L957.03,499.61 L957.31,500.17 L957.59,500.60 L957.87,499.09 L958.14,498.54 L958.42,498.09 L958.70,497.50 L958.97,497.14 L959.25,496.42 L959.52,499.21 L959.79,498.83 L960.06,499.89 L960.34,500.37 L960.61,500.58 L960.88,501.81 L961.15,501.88 L961.43,501.77 L961.70,502.70 L961.97,500.99 L962.25,502.09 L962.52,501.44 L962.79,502.18 L963.06,501.28 L963.34,501.91 L963.61,503.51 L963.88,502.21 L964.15,500.75 L964.43,502.11 L964.70,502.70 L964.96,504.08 L965.21,503.06 L965.47,504.07 L965.72,504.21 L965.98,503.25 L966.23,504.22 L966.49,504.44 L966.74,503.78 L967.00,505.40 L967.27,505.24 L967.55,504.73 L967.82,504.49 L968.09,505.35 L968.36,505.92 L968.64,504.93 L968.91,506.30 L969.18,504.86 L969.45,505.88 L969.73,505.84 L970.00,506.50 L970.27,507.67 L970.55,507.58 L970.83,507.61 L971.10,507.26 L971.38,505.45 L971.65,506.83 L971.93,506.25 L972.20,505.70 L972.46,505.41 L972.71,505.70 L972.97,506.31 L973.22,506.48 L973.48,505.84 L973.73,507.85 L973.99,508.16 L974.24,507.24 L974.50,507.70 L974.77,507.61 L975.05,506.57 L975.32,506.06 L975.59,505.96 L975.86,507.96 L976.14,507.28 L976.41,507.59 L976.68,506.26 L976.95,506.89 L977.23,507.97 L977.50,506.80 L977.77,506.41 L978.04,505.40 L978.31,506.92 L978.58,506.94 L978.85,506.44 L979.12,506.49 L979.39,508.03 L979.66,508.61 L979.93,508.79 L980.20,508.70 L980.46,509.00 L980.71,508.42 L980.97,508.32 L981.23,508.10 L981.49,508.00 L981.74,507.78 L982.00,507.20 L982.30,505.22 L982.60,502.03 L982.90,499.50 L983.20,497.50 L983.46,498.08 L983.72,497.51 L983.98,495.91 L984.24,495.53 L984.50,494.50 L984.80,496.38 L985.10,496.26 L985.40,497.53 L985.70,499.70 L985.96,498.45 L986.21,499.92 L986.47,499.63 L986.72,499.11 L986.98,499.14 L987.23,498.32 L987.49,497.03 L987.74,498.38 L988.00,497.50 L988.28,497.72 L988.56,496.91 L988.83,498.13 L989.11,499.36 L989.39,497.52 L989.67,498.02 L989.94,496.94 L990.22,497.31 L990.50,496.70 L990.76,496.25 L991.01,498.66 L991.27,498.23 L991.52,499.61 L991.78,498.15 L992.03,499.34 L992.29,499.95 L992.54,501.36 L992.80,500.20 L993.07,499.94 L993.34,500.14 L993.61,500.77 L993.88,500.33 L994.15,499.15 L994.42,499.59 L994.69,499.82 L994.96,498.74 L995.23,498.85 L995.50,499.00 L995.77,498.86 L996.05,499.42 L996.32,500.58 L996.59,499.94 L996.86,498.94 L997.14,500.11 L997.41,499.64 L997.68,498.81 L997.95,499.53 L998.23,497.80 L998.50,498.70 L998.77,498.49 L999.05,497.70 L999.33,498.97 L999.60,498.61 L999.88,497.79 L1000.15,497.20 L1000.43,497.64 L1000.70,497.50" fill="none" stroke="#8c8c8c" stroke-width="1.4" stroke-linejoin="round" stroke-linecap="round"/>
<path d="M113.80,278.20 L114.05,278.51 L114.30,275.50 L114.55,272.89 L114.80,272.49 L115.05,270.93 L115.30,267.70 L115.57,268.07 L115.84,272.13 L116.11,273.79 L116.39,275.58 L116.66,277.93 L116.93,277.76 L117.20,280.50 L117.46,279.88 L117.71,282.72 L117.97,287.79 L118.23,285.50 L118.49,290.40 L118.74,290.52 L119.00,291.70 L119.29,289.02 L119.57,288.92 L119.86,287.01 L120.14,288.26 L120.43,283.48 L120.71,282.57 L121.00,282.00 L121.26,277.76 L121.51,278.39 L121.77,276.06 L122.03,273.77 L122.29,271.55 L122.54,271.19 L122.80,270.00 L123.08,268.75 L123.36,268.38 L123.64,267.47 L123.91,271.45 L124.19,265.30 L124.47,264.00 L124.75,268.05 L125.03,267.38 L125.31,267.79 L125.59,266.52 L125.86,267.22 L126.14,267.53 L126.42,267.75 L126.70,266.20 L126.97,266.02 L127.23,265.24 L127.50,269.30 L127.77,269.52 L128.03,270.35 L128.30,272.70 L128.57,272.23 L128.83,272.46 L129.10,272.43 L129.37,271.98 L129.63,274.03 L129.90,274.73 L130.17,273.20 L130.43,273.01 L130.70,274.50 L130.96,272.89 L131.21,270.97 L131.47,272.83 L131.72,273.62 L131.98,270.91 L132.23,270.74 L132.49,269.51 L132.74,270.88 L133.00,270.00 L133.27,269.83 L133.55,272.79 L133.82,274.39 L134.09,274.84 L134.36,275.69 L134.64,276.74 L134.91,278.33 L135.18,278.76 L135.45,278.14 L135.73,281.12 L136.00,282.00 L136.28,281.66 L136.55,282.16 L136.82,280.29 L137.10,283.19 L137.38,283.30 L137.65,283.17 L137.92,281.52 L138.20,282.70 L138.46,284.81 L138.71,285.68 L138.97,286.52 L139.22,291.19 L139.48,290.14 L139.73,293.33 L139.99,289.77 L140.24,291.40 L140.50,294.70 L140.78,296.08 L141.05,295.36 L141.32,295.34 L141.60,293.94 L141.88,292.91 L142.15,292.95 L142.42,291.71 L142.70,291.70 L142.95,295.25 L143.20,294.03 L143.45,296.43 L143.70,297.20 L143.95,297.29 L144.20,298.50 L144.46,296.12 L144.71,294.60 L144.97,291.44 L145.22,291.24 L145.48,290.93 L145.73,290.38 L145.99,290.29 L146.24,285.23 L146.50,285.00 L146.78,283.05 L147.05,283.79 L147.32,281.52 L147.60,279.70 L147.88,279.88 L148.15,278.81 L148.42,277.94 L148.70,277.50 L148.97,278.67 L149.25,281.05 L149.52,281.60 L149.79,282.85 L150.06,282.66 L150.34,282.29 L150.61,285.08 L150.88,284.95 L151.15,284.92 L151.43,287.21 L151.70,286.50 L151.97,287.78 L152.25,290.73 L152.53,290.96 L152.80,294.00 L153.05,292.52 L153.30,292.01 L153.55,290.79 L153.80,286.71 L154.05,288.74 L154.30,285.70 L154.57,288.34 L154.84,286.20 L155.11,286.99 L155.39,289.44 L155.66,288.08 L155.93,290.87 L156.20,292.50 L156.45,292.78 L156.70,295.55 L156.95,297.26 L157.20,299.21 L157.45,299.62 L157.70,301.50 L157.97,301.09 L158.25,302.20 L158.52,302.40 L158.79,303.45 L159.06,300.12 L159.34,302.34 L159.61,302.31 L159.88,299.56 L160.15,300.46 L160.43,300.90 L160.70,300.70 L160.95,303.99 L161.20,304.60 L161.45,309.13 L161.70,311.43 L161.95,312.46 L162.20,313.50 L162.45,313.44 L162.70,312.71 L162.95,312.26 L163.20,313.58 L163.45,313.50 L163.70,312.00 L163.96,313.51 L164.21,316.16 L164.47,317.76 L164.73,320.69 L164.99,320.00 L165.24,321.53 L165.50,322.50 L165.79,319.25 L166.07,316.08 L166.36,313.73 L166.64,311.05 L166.93,308.98 L167.21,307.67 L167.50,304.50 L167.78,305.01 L168.05,304.34 L168.32,302.99 L168.60,303.25 L168.88,306.24 L169.15,305.52 L169.42,303.65 L169.70,303.00 L169.95,303.00 L170.20,301.67 L170.45,305.63 L170.70,305.99 L170.95,308.45 L171.20,310.50 L171.45,313.01 L171.70,310.60 L171.95,312.85 L172.20,312.42 L172.45,310.90 L172.70,311.20 L172.96,313.83 L173.21,315.50 L173.47,317.58 L173.72,318.95 L173.98,317.98 L174.23,318.50 L174.49,320.60 L174.74,321.70 L175.00,322.50 L175.25,323.95 L175.50,326.50 L175.75,326.18 L176.00,328.73 L176.25,331.59 L176.50,331.50 L176.76,332.30 L177.01,332.03 L177.27,334.53 L177.53,336.70 L177.79,337.81 L178.04,340.11 L178.30,342.00 L178.60,341.51 L178.90,336.16 L179.20,332.92 L179.50,331.50 L179.75,332.91 L180.00,334.37 L180.25,336.45 L180.50,340.02 L180.75,342.19 L181.00,342.00 L181.25,342.64 L181.50,340.97 L181.75,338.93 L182.00,337.46 L182.25,336.87 L182.50,336.00 L182.78,336.14 L183.05,334.90 L183.32,333.88 L183.60,333.70 L183.88,332.12 L184.15,329.20 L184.42,329.94 L184.70,330.00 L184.97,329.22 L185.24,328.53 L185.51,325.21 L185.79,327.96 L186.06,324.81 L186.33,322.62 L186.60,322.48 L186.87,319.75 L187.14,318.88 L187.41,319.14 L187.69,317.65 L187.96,318.58 L188.23,316.36 L188.50,316.50 L188.77,315.49 L189.04,315.51 L189.31,317.28 L189.59,317.24 L189.86,315.86 L190.13,314.19 L190.40,314.20 L190.66,312.98 L190.93,315.20 L191.19,315.98 L191.45,320.98 L191.72,320.34 L191.98,321.97 L192.25,324.41 L192.51,324.61 L192.77,329.28 L193.04,328.73 L193.30,331.50 L193.56,331.82 L193.82,329.02 L194.08,327.90 L194.35,325.76 L194.61,327.60 L194.87,325.21 L195.13,326.08 L195.39,323.55 L195.65,321.79 L195.92,323.28 L196.18,324.04 L196.44,321.16 L196.70,321.00 L196.97,320.49 L197.25,318.19 L197.52,319.06 L197.80,318.26 L198.07,316.99 L198.35,317.34 L198.62,317.24 L198.90,315.82 L199.18,314.76 L199.45,312.63 L199.72,313.56 L200.00,312.70 L200.29,314.10 L200.57,313.76 L200.86,315.00 L201.14,315.49 L201.43,318.03 L201.71,320.23 L202.00,321.00 L202.26,321.54 L202.53,321.03 L202.79,320.55 L203.06,320.76 L203.32,321.29 L203.59,320.71 L203.85,320.50 L204.12,319.41 L204.38,321.49 L204.65,320.32 L204.91,320.49 L205.18,317.15 L205.44,319.89 L205.71,318.80 L205.97,316.89 L206.24,318.71 L206.50,317.20 L206.77,316.27 L207.05,319.30 L207.32,317.69 L207.59,321.55 L207.86,321.20 L208.14,322.01 L208.41,323.26 L208.68,324.48 L208.95,323.96 L209.23,325.57 L209.50,326.20 L209.78,326.08 L210.05,324.09 L210.32,325.23 L210.60,324.22 L210.88,323.17 L211.15,323.18 L211.42,324.90 L211.70,322.50 L211.97,322.57 L212.25,322.24 L212.52,323.94 L212.79,326.06 L213.06,327.20 L213.34,326.83 L213.61,327.85 L213.88,329.89 L214.15,331.80 L214.43,331.60 L214.70,333.00 L214.95,332.35 L215.20,328.55 L215.45,328.93 L215.70,328.03 L215.95,327.79 L216.20,325.50 L216.47,326.51 L216.74,325.09 L217.01,327.34 L217.29,329.90 L217.56,330.46 L217.83,332.12 L218.10,333.84 L218.37,333.76 L218.64,336.64 L218.91,336.75 L219.19,337.18 L219.46,339.93 L219.73,340.27 L220.00,340.50 L220.28,337.96 L220.55,337.90 L220.82,338.14 L221.10,337.73 L221.38,335.94 L221.65,334.39 L221.92,333.28 L222.20,331.50 L222.46,332.67 L222.71,336.88 L222.97,336.10 L223.22,339.01 L223.48,340.01 L223.73,340.67 L223.99,339.69 L224.24,343.73 L224.50,342.00 L224.78,340.55 L225.05,340.90 L225.32,339.71 L225.60,337.94 L225.88,338.29 L226.15,334.80 L226.42,335.59 L226.70,332.00 L226.96,328.75 L227.21,332.98 L227.47,330.50 L227.72,330.27 L227.98,330.61 L228.23,329.44 L228.49,331.25 L228.74,329.22 L229.00,329.70 L229.27,330.90 L229.55,330.63 L229.82,330.29 L230.09,331.04 L230.36,332.95 L230.64,333.70 L230.91,333.31 L231.18,332.20 L231.45,336.16 L231.73,334.43 L232.00,335.00 L232.28,337.14 L232.55,338.05 L232.82,338.79 L233.10,342.02 L233.38,340.00 L233.65,342.58 L233.92,345.19 L234.20,345.50 L234.46,347.00 L234.71,345.57 L234.97,346.02 L235.23,350.14 L235.49,350.07 L235.74,351.86 L236.00,353.70 L236.27,351.27 L236.54,351.85 L236.81,349.36 L237.08,347.30 L237.35,344.52 L237.62,341.06 L237.89,341.07 L238.16,339.29 L238.43,337.87 L238.70,336.50 L238.96,336.68 L239.21,331.91 L239.47,331.79 L239.72,330.62 L239.98,327.93 L240.23,326.71 L240.49,325.57 L240.74,324.00 L241.00,323.00 L241.28,322.04 L241.55,320.46 L241.82,322.17 L242.10,321.58 L242.38,319.70 L242.65,322.96 L242.92,322.26 L243.20,321.50 L243.45,320.99 L243.70,320.27 L243.95,321.39 L244.20,317.25 L244.45,315.96 L244.70,314.00 L244.97,312.28 L245.25,312.54 L245.52,310.21 L245.80,309.34 L246.07,309.20 L246.35,310.06 L246.62,307.87 L246.90,307.29 L247.18,305.68 L247.45,307.84 L247.72,303.51 L248.00,303.50 L248.27,300.71 L248.54,305.91 L248.81,304.37 L249.08,305.57 L249.35,305.46 L249.62,306.47 L249.88,306.08 L250.15,310.12 L250.42,309.16 L250.69,310.06 L250.96,313.51 L251.23,308.93 L251.50,311.00 L251.78,311.08 L252.05,314.23 L252.32,312.77 L252.60,312.92 L252.88,312.72 L253.15,315.11 L253.42,314.15 L253.70,316.20 L253.95,314.92 L254.20,316.75 L254.45,312.89 L254.70,311.65 L254.95,310.22 L255.20,308.70 L255.47,308.34 L255.74,310.11 L256.01,312.65 L256.29,313.57 L256.56,312.74 L256.83,315.01 L257.10,315.10 L257.37,317.29 L257.64,316.90 L257.91,317.94 L258.19,319.79 L258.46,316.96 L258.73,319.39 L259.00,318.50 L259.25,316.43 L259.50,314.01 L259.75,316.61 L260.00,313.47 L260.25,315.98 L260.50,311.00 L260.77,308.54 L261.05,312.06 L261.32,309.39 L261.59,305.80 L261.86,310.66 L262.14,307.77 L262.41,307.83 L262.68,305.13 L262.95,306.95 L263.23,305.64 L263.50,308.00 L263.77,305.43 L264.05,305.35 L264.32,303.78 L264.60,302.82 L264.88,303.10 L265.15,299.90 L265.43,299.05 L265.70,297.50 L265.95,295.95 L266.20,297.34 L266.45,298.43 L266.70,295.49 L266.95,296.79 L267.20,295.20 L267.46,297.28 L267.71,296.91 L267.97,299.95 L268.22,302.03 L268.48,303.17 L268.73,303.87 L268.99,306.05 L269.24,306.76 L269.50,309.50 L269.77,312.20 L270.04,316.86 L270.31,316.93 L270.59,320.73 L270.86,322.29 L271.13,323.73 L271.40,326.00 L271.66,322.59 L271.91,323.24 L272.17,319.31 L272.43,318.55 L272.69,319.10 L272.94,319.72 L273.20,317.00 L273.46,316.67 L273.71,314.34 L273.97,314.90 L274.22,315.48 L274.48,311.43 L274.73,309.28 L274.99,308.77 L275.24,306.94 L275.50,305.00 L275.77,305.64 L276.05,308.48 L276.32,310.10 L276.60,309.27 L276.88,310.97 L277.15,312.32 L277.43,313.16 L277.70,312.50 L277.96,311.47 L278.21,309.08 L278.47,310.82 L278.72,307.89 L278.98,306.32 L279.23,303.88 L279.49,303.92 L279.74,302.45 L280.00,301.20 L280.27,301.15 L280.55,300.72 L280.82,304.05 L281.09,304.96 L281.36,302.75 L281.64,305.04 L281.91,303.83 L282.18,304.04 L282.45,304.67 L282.73,305.27 L283.00,305.00 L283.27,307.71 L283.55,302.35 L283.82,301.78 L284.09,301.01 L284.36,299.54 L284.64,301.10 L284.91,299.10 L285.18,300.67 L285.45,300.64 L285.73,298.40 L286.00,296.00 L286.26,294.32 L286.53,295.94 L286.79,293.20 L287.06,292.46 L287.32,291.58 L287.59,292.96 L287.85,290.65 L288.11,290.30 L288.38,289.42 L288.64,288.86 L288.91,289.49 L289.17,288.67 L289.44,291.36 L289.70,290.00 L289.96,290.06 L290.21,287.86 L290.47,288.21 L290.72,289.67 L290.98,288.05 L291.23,288.44 L291.49,289.12 L291.74,288.20 L292.00,287.70 L292.25,290.59 L292.50,291.27 L292.75,294.45 L293.00,296.91 L293.25,298.08 L293.50,300.50 L293.77,301.77 L294.04,303.56 L294.31,304.83 L294.59,307.41 L294.86,306.87 L295.13,307.90 L295.40,308.70 L295.68,302.68 L295.96,305.25 L296.24,302.28 L296.52,302.94 L296.80,299.00 L297.07,297.34 L297.34,298.16 L297.61,296.64 L297.89,297.90 L298.16,295.16 L298.43,294.63 L298.70,295.20 L298.97,295.19 L299.24,297.18 L299.51,297.14 L299.79,300.44 L300.06,302.94 L300.33,301.36 L300.60,302.01 L300.87,302.59 L301.14,302.81 L301.41,303.26 L301.69,304.44 L301.96,305.09 L302.23,306.19 L302.50,306.50 L302.77,302.69 L303.05,306.70 L303.32,304.34 L303.60,303.25 L303.88,303.05 L304.15,302.04 L304.43,300.93 L304.70,299.70 L304.96,300.26 L305.22,301.74 L305.48,302.28 L305.74,303.56 L306.00,305.27 L306.26,305.43 L306.52,304.88 L306.78,306.95 L307.04,308.14 L307.30,308.00 L307.57,307.19 L307.84,305.78 L308.11,304.83 L308.39,301.81 L308.66,300.55 L308.93,299.45 L309.20,298.20 L309.47,296.08 L309.75,295.24 L310.02,294.59 L310.30,293.86 L310.57,292.56 L310.85,289.12 L311.12,294.71 L311.40,292.14 L311.68,290.88 L311.95,289.71 L312.23,290.89 L312.50,289.50 L312.79,289.89 L313.07,294.53 L313.36,295.71 L313.64,296.45 L313.93,300.57 L314.21,300.73 L314.50,303.50 L314.77,303.80 L315.05,302.56 L315.32,303.83 L315.59,304.78 L315.86,304.98 L316.14,305.56 L316.41,306.93 L316.68,306.53 L316.95,307.95 L317.23,306.77 L317.50,305.00 L317.77,306.19 L318.05,309.46 L318.32,308.76 L318.60,310.57 L318.88,310.00 L319.15,312.75 L319.43,311.78 L319.70,314.00 L319.96,312.17 L320.21,312.42 L320.47,311.04 L320.72,309.96 L320.98,308.18 L321.23,308.36 L321.49,308.52 L321.74,304.74 L322.00,304.20 L322.27,306.62 L322.55,305.97 L322.82,307.98 L323.09,312.44 L323.36,313.43 L323.64,312.00 L323.91,314.48 L324.18,314.03 L324.45,316.60 L324.73,318.73 L325.00,320.00 L325.25,318.54 L325.50,317.72 L325.75,313.90 L326.00,317.67 L326.25,316.90 L326.50,315.50 L326.76,316.14 L327.01,318.12 L327.27,318.10 L327.53,318.27 L327.79,317.43 L328.04,320.15 L328.30,322.20 L328.57,322.73 L328.84,320.75 L329.11,320.06 L329.38,320.23 L329.65,318.12 L329.92,317.74 L330.19,315.66 L330.46,315.23 L330.73,314.89 L331.00,314.00 L331.27,314.19 L331.55,315.07 L331.82,315.46 L332.09,315.70 L332.36,312.17 L332.64,314.31 L332.91,315.74 L333.18,315.39 L333.45,316.19 L333.73,316.72 L334.00,316.20 L334.27,315.68 L334.55,311.35 L334.82,312.46 L335.10,309.73 L335.38,308.93 L335.65,308.09 L335.93,307.77 L336.20,306.50 L336.47,307.55 L336.75,305.19 L337.02,308.02 L337.29,306.11 L337.56,309.20 L337.84,308.79 L338.11,310.18 L338.38,311.88 L338.65,312.52 L338.93,309.79 L339.20,311.00 L339.46,308.84 L339.71,307.89 L339.97,305.00 L340.22,305.59 L340.48,305.87 L340.73,306.43 L340.99,304.27 L341.24,302.38 L341.50,299.70 L341.77,299.94 L342.05,299.97 L342.32,298.11 L342.59,298.89 L342.86,295.29 L343.14,298.01 L343.41,296.44 L343.68,295.82 L343.95,293.45 L344.23,295.83 L344.50,293.00 L344.75,294.02 L345.00,295.52 L345.25,297.56 L345.50,298.01 L345.75,297.25 L346.00,297.50 L346.23,293.16 L346.47,290.39 L346.70,288.50 L346.96,287.98 L347.21,285.78 L347.47,284.54 L347.72,285.70 L347.98,287.28 L348.23,287.37 L348.49,286.11 L348.74,282.59 L349.00,284.00 L349.26,285.12 L349.53,282.78 L349.79,282.88 L350.06,283.90 L350.32,284.70 L350.59,283.11 L350.85,282.19 L351.11,282.07 L351.38,280.07 L351.64,282.25 L351.91,279.00 L352.17,281.34 L352.44,278.15 L352.70,278.70 L352.97,279.53 L353.25,279.61 L353.52,279.20 L353.79,281.10 L354.06,281.45 L354.34,281.33 L354.61,283.02 L354.88,284.96 L355.15,283.81 L355.43,285.83 L355.70,287.00 L355.96,284.80 L356.21,286.44 L356.47,284.68 L356.72,284.71 L356.98,283.26 L357.23,282.63 L357.49,280.19 L357.74,280.50 L358.00,280.20 L358.27,280.95 L358.55,279.97 L358.82,280.65 L359.10,281.93 L359.38,281.35 L359.65,281.77 L359.93,282.37 L360.20,281.70 L360.45,279.97 L360.70,276.33 L360.95,275.59 L361.20,273.71 L361.45,271.18 L361.70,269.00 L361.95,268.35 L362.20,268.81 L362.45,264.69 L362.70,263.06 L362.95,257.54 L363.20,257.00 L363.45,256.52 L363.70,255.62 L363.95,254.75 L364.20,253.15 L364.45,249.17 L364.70,250.20 L364.99,250.91 L365.27,254.60 L365.56,255.74 L365.84,254.74 L366.13,258.82 L366.41,257.94 L366.70,260.70 L366.96,257.89 L367.21,257.14 L367.47,255.27 L367.73,251.58 L367.99,249.08 L368.24,249.15 L368.50,246.50 L368.77,249.46 L369.05,248.31 L369.32,244.41 L369.60,248.45 L369.88,247.21 L370.15,250.05 L370.43,250.71 L370.70,250.20 L370.96,248.46 L371.22,247.32 L371.48,241.35 L371.74,238.02 L372.00,236.00 L372.28,238.20 L372.56,239.54 L372.83,239.96 L373.11,238.39 L373.39,241.24 L373.67,244.85 L373.94,242.99 L374.22,244.97 L374.50,245.70 L374.75,240.84 L375.00,239.83 L375.25,237.68 L375.50,234.55 L375.75,234.31 L376.00,232.20 L376.27,231.02 L376.54,230.02 L376.81,231.12 L377.08,229.12 L377.35,230.52 L377.62,230.32 L377.89,230.58 L378.16,228.21 L378.43,225.89 L378.70,228.50 L378.95,227.37 L379.20,226.62 L379.45,223.63 L379.70,224.00 L379.95,221.41 L380.20,221.80 L380.45,217.71 L380.70,214.80 L380.95,211.39 L381.20,209.00 L381.50,205.16 L381.80,202.16 L382.10,198.65 L382.40,195.20 L382.67,191.46 L382.93,189.13 L383.20,185.53 L383.47,183.09 L383.73,182.80 L384.00,180.00 L384.26,178.18 L384.52,178.58 L384.78,174.01 L385.04,173.62 L385.30,172.00 L385.59,172.04 L385.87,169.34 L386.16,168.41 L386.44,168.57 L386.73,165.99 L387.01,167.38 L387.30,164.00 L387.58,165.58 L387.86,165.04 L388.14,163.55 L388.42,161.78 L388.70,162.70 L389.00,166.01 L389.30,169.30 L389.53,162.21 L389.77,155.74 L390.00,148.00 L390.26,145.33 L390.52,144.16 L390.78,143.36 L391.04,141.53 L391.30,140.00 L391.55,136.38 L391.80,129.51 L392.05,123.91 L392.30,118.70 L392.57,121.75 L392.83,124.36 L393.10,129.30 L393.40,121.16 L393.70,110.00 L393.99,111.05 L394.27,109.16 L394.56,110.73 L394.84,108.34 L395.13,107.85 L395.41,108.44 L395.70,106.50 L396.00,112.56 L396.30,120.00 L396.70,136.00 L397.00,135.22 L397.30,132.63 L397.60,132.00 L397.87,137.50 L398.13,142.40 L398.40,146.70 L398.65,153.38 L398.90,161.30 L399.17,165.93 L399.43,168.40 L399.70,174.70 L400.10,190.00 L400.40,224.00 L400.67,213.48 L400.95,205.72 L401.23,192.89 L401.50,185.00 L401.80,180.24 L402.10,176.05 L402.40,171.46 L402.70,170.00 L402.96,173.60 L403.21,179.24 L403.47,184.86 L403.73,187.94 L403.99,194.32 L404.24,200.88 L404.50,204.50 L404.77,202.48 L405.04,197.77 L405.31,195.11 L405.58,191.48 L405.85,189.84 L406.12,188.02 L406.39,183.85 L406.66,182.30 L406.93,179.92 L407.20,177.50 L407.45,186.02 L407.70,190.28 L407.95,194.38 L408.20,200.00 L408.50,248.00 L408.78,245.41 L409.07,243.04 L409.35,239.19 L409.63,239.55 L409.92,235.54 L410.20,232.00 L410.46,234.70 L410.71,237.89 L410.97,238.55 L411.23,242.86 L411.49,245.97 L411.74,249.88 L412.00,254.00 L412.25,252.57 L412.50,249.08 L412.75,245.56 L413.00,242.24 L413.25,239.42 L413.50,237.50 L413.75,236.13 L414.00,235.24 L414.25,237.08 L414.50,234.86 L414.75,233.31 L415.00,233.00 L415.25,229.65 L415.50,230.64 L415.75,227.15 L416.00,224.99 L416.25,221.47 L416.50,219.50 L416.75,215.42 L417.00,214.30 L417.25,211.48 L417.50,209.11 L417.75,206.26 L418.00,203.00 L418.30,205.34 L418.60,208.55 L418.90,209.27 L419.20,213.50 L419.45,211.21 L419.70,205.84 L419.95,201.84 L420.20,198.50 L420.45,195.70 L420.70,194.34 L420.95,191.15 L421.20,187.56 L421.45,185.22 L421.70,182.00 L421.96,182.25 L422.21,182.81 L422.47,182.45 L422.72,180.19 L422.98,180.79 L423.23,181.93 L423.49,178.40 L423.74,177.45 L424.00,176.00 L424.25,176.03 L424.50,182.42 L424.75,182.57 L425.00,182.82 L425.25,189.51 L425.50,190.20 L425.76,191.18 L426.01,189.37 L426.27,189.01 L426.53,191.41 L426.79,184.27 L427.04,189.57 L427.30,188.00 L427.57,187.31 L427.84,184.41 L428.11,183.66 L428.39,181.92 L428.66,178.59 L428.93,179.21 L429.20,174.50 L429.45,178.14 L429.70,175.89 L429.95,179.40 L430.20,176.85 L430.45,180.96 L430.70,179.00 L430.98,183.16 L431.25,189.54 L431.52,194.09 L431.80,200.00 L432.10,211.70 L432.40,222.31 L432.70,234.50 L432.95,231.27 L433.20,228.59 L433.45,225.57 L433.70,222.50 L433.95,227.93 L434.20,234.64 L434.45,239.41 L434.70,246.05 L434.95,251.87 L435.20,257.00 L435.45,253.60 L435.70,250.21 L435.95,247.25 L436.20,243.93 L436.45,238.08 L436.70,236.00 L436.96,235.62 L437.21,232.55 L437.47,229.11 L437.72,231.95 L437.98,231.29 L438.23,227.90 L438.49,227.38 L438.74,227.39 L439.00,225.50 L439.26,228.58 L439.51,232.06 L439.77,237.84 L440.03,242.08 L440.29,246.28 L440.54,252.43 L440.80,255.50 L441.07,252.65 L441.34,251.91 L441.61,252.67 L441.89,251.05 L442.16,248.31 L442.43,249.56 L442.70,246.50 L442.95,243.89 L443.20,239.86 L443.45,238.76 L443.70,231.35 L443.95,229.60 L444.20,227.00 L444.49,225.78 L444.77,228.49 L445.06,229.18 L445.34,227.60 L445.63,229.00 L445.91,230.37 L446.20,231.50 L446.48,229.67 L446.76,227.45 L447.03,228.13 L447.31,224.64 L447.59,224.09 L447.87,221.55 L448.14,220.99 L448.42,218.34 L448.70,218.00 L448.99,219.04 L449.27,220.49 L449.56,224.99 L449.84,225.53 L450.13,228.65 L450.41,227.67 L450.70,230.00 L450.95,229.10 L451.20,226.14 L451.45,226.00 L451.70,226.27 L451.95,223.00 L452.20,222.50 L452.48,225.54 L452.76,226.20 L453.03,228.13 L453.31,230.74 L453.59,230.42 L453.87,232.63 L454.14,234.88 L454.42,236.75 L454.70,239.00 L454.96,239.18 L455.21,238.38 L455.47,236.27 L455.72,238.52 L455.98,236.84 L456.23,233.95 L456.49,235.24 L456.74,233.00 L457.00,234.50 L457.25,233.66 L457.50,229.41 L457.75,230.90 L458.00,227.49 L458.25,227.83 L458.50,224.70 L458.75,225.85 L459.00,229.10 L459.25,232.60 L459.50,230.03 L459.75,234.16 L460.00,233.00 L460.25,230.97 L460.50,230.60 L460.75,229.55 L461.00,227.06 L461.25,224.64 L461.50,224.70 L461.77,222.35 L462.05,223.58 L462.32,220.18 L462.59,218.44 L462.86,216.43 L463.14,217.58 L463.41,215.14 L463.68,214.41 L463.95,212.43 L464.23,211.90 L464.50,210.50 L464.77,209.49 L465.05,211.63 L465.32,211.34 L465.60,213.60 L465.88,213.17 L466.15,210.82 L466.43,211.65 L466.70,212.00 L466.98,213.64 L467.25,215.96 L467.52,219.59 L467.80,221.70 L468.07,219.24 L468.34,218.28 L468.61,217.68 L468.88,217.59 L469.15,218.97 L469.42,217.67 L469.69,215.60 L469.96,215.24 L470.23,213.82 L470.50,212.00 L470.77,213.80 L471.05,214.95 L471.32,215.65 L471.60,214.05 L471.88,215.89 L472.15,218.27 L472.43,216.47 L472.70,216.50 L472.95,216.34 L473.20,214.81 L473.45,215.33 L473.70,216.48 L473.95,213.52 L474.20,212.70 L474.47,212.17 L474.75,211.70 L475.02,214.08 L475.29,214.22 L475.56,215.85 L475.84,218.54 L476.11,216.94 L476.38,217.38 L476.65,218.12 L476.93,218.03 L477.20,219.50 L477.47,220.65 L477.75,216.15 L478.02,218.10 L478.29,215.60 L478.56,214.10 L478.84,215.16 L479.11,215.67 L479.38,213.05 L479.65,213.56 L479.93,215.15 L480.20,212.70 L480.48,211.70 L480.76,212.87 L481.04,215.53 L481.32,212.27 L481.60,212.93 L481.88,213.78 L482.16,213.67 L482.44,212.66 L482.72,213.20 L483.00,212.20 L483.26,213.36 L483.53,212.08 L483.79,209.85 L484.06,212.25 L484.32,210.09 L484.59,209.23 L484.85,209.66 L485.12,210.88 L485.38,210.38 L485.65,209.82 L485.91,209.17 L486.18,210.00 L486.44,207.78 L486.71,208.72 L486.97,207.99 L487.24,208.42 L487.50,209.20 L487.77,208.52 L488.05,211.86 L488.32,209.86 L488.60,211.83 L488.88,209.20 L489.15,208.95 L489.43,212.26 L489.70,212.20 L489.95,214.44 L490.20,214.21 L490.45,215.69 L490.70,219.21 L490.95,219.33 L491.20,222.00 L491.47,222.74 L491.75,219.60 L492.02,219.87 L492.29,221.88 L492.56,220.45 L492.84,219.18 L493.11,219.45 L493.38,219.65 L493.65,220.81 L493.93,218.43 L494.20,219.70 L494.46,221.95 L494.72,220.89 L494.98,221.25 L495.24,224.54 L495.50,224.89 L495.76,225.19 L496.02,225.47 L496.28,227.95 L496.54,227.09 L496.80,230.20 L497.07,229.56 L497.34,229.39 L497.61,225.36 L497.89,225.52 L498.16,225.98 L498.43,222.19 L498.70,224.20 L498.97,223.13 L499.24,221.42 L499.51,223.49 L499.79,220.14 L500.06,221.96 L500.33,220.81 L500.60,219.18 L500.87,218.59 L501.14,216.90 L501.41,217.48 L501.69,218.18 L501.96,217.26 L502.23,218.08 L502.50,218.20 L502.76,215.34 L503.03,217.46 L503.29,218.78 L503.56,214.12 L503.82,214.18 L504.09,216.14 L504.35,214.07 L504.62,214.13 L504.88,213.93 L505.15,212.22 L505.41,213.40 L505.68,213.02 L505.94,214.46 L506.21,212.84 L506.47,212.55 L506.74,212.93 L507.00,213.70 L507.27,214.76 L507.55,213.70 L507.82,213.89 L508.10,214.85 L508.38,214.53 L508.65,216.00 L508.93,213.33 L509.20,216.70 L509.49,217.15 L509.77,216.70 L510.06,215.04 L510.34,214.21 L510.63,212.13 L510.91,214.25 L511.20,213.00 L511.48,212.10 L511.76,215.27 L512.03,214.75 L512.31,216.09 L512.59,217.55 L512.87,218.63 L513.14,218.15 L513.42,217.17 L513.70,219.70 L513.97,218.87 L514.25,219.31 L514.52,220.56 L514.79,219.95 L515.06,221.13 L515.34,222.09 L515.61,220.39 L515.88,226.48 L516.15,224.93 L516.43,226.93 L516.70,226.50 L516.95,225.65 L517.20,227.79 L517.45,224.16 L517.70,222.06 L517.95,223.83 L518.20,222.00 L518.49,221.73 L518.77,222.70 L519.06,224.09 L519.34,224.01 L519.63,225.31 L519.91,227.24 L520.20,227.20 L520.46,228.07 L520.71,224.74 L520.97,224.76 L521.23,224.01 L521.49,222.37 L521.74,221.54 L522.00,220.50 L522.27,218.73 L522.55,217.91 L522.82,217.37 L523.09,219.76 L523.36,217.48 L523.64,216.23 L523.91,215.88 L524.18,215.59 L524.45,213.76 L524.73,210.98 L525.00,213.00 L525.27,213.79 L525.55,214.41 L525.83,212.95 L526.10,211.83 L526.38,212.64 L526.65,211.83 L526.93,212.16 L527.20,213.00 L527.48,214.62 L527.75,215.48 L528.02,219.27 L528.30,218.20 L528.57,217.31 L528.84,217.22 L529.11,215.90 L529.39,215.12 L529.66,212.94 L529.93,212.26 L530.20,211.50 L530.46,210.73 L530.71,210.78 L530.97,210.38 L531.22,211.65 L531.48,212.44 L531.73,212.85 L531.99,211.91 L532.24,215.16 L532.50,214.50 L532.76,213.88 L533.01,210.66 L533.27,213.82 L533.53,209.40 L533.79,209.76 L534.04,211.18 L534.30,210.00 L534.57,210.39 L534.84,210.81 L535.11,209.05 L535.38,208.62 L535.65,207.64 L535.92,205.71 L536.19,204.18 L536.46,206.44 L536.73,200.89 L537.00,202.50 L537.27,202.45 L537.55,202.17 L537.83,201.57 L538.10,202.00 L538.38,200.17 L538.65,199.11 L538.93,200.59 L539.20,201.00 L539.45,201.02 L539.70,201.36 L539.95,200.62 L540.20,204.08 L540.45,202.56 L540.70,203.20 L540.96,201.13 L541.21,201.72 L541.47,201.54 L541.72,198.84 L541.98,198.84 L542.23,198.77 L542.49,198.73 L542.74,196.85 L543.00,196.50 L543.27,197.96 L543.55,195.94 L543.82,194.36 L544.09,195.81 L544.36,193.34 L544.64,193.28 L544.91,192.94 L545.18,194.70 L545.45,192.81 L545.73,190.31 L546.00,192.00 L546.25,192.51 L546.50,190.17 L546.75,190.96 L547.00,190.93 L547.25,193.29 L547.50,193.50 L547.75,191.57 L548.00,190.22 L548.25,186.96 L548.50,189.39 L548.75,187.15 L549.00,186.00 L549.25,186.17 L549.50,188.01 L549.75,187.98 L550.00,187.12 L550.25,188.29 L550.50,188.20 L550.73,188.45 L550.97,193.60 L551.20,197.20 L551.46,196.86 L551.71,196.31 L551.97,197.19 L552.23,200.16 L552.49,199.67 L552.74,199.86 L553.00,201.00 L553.30,198.85 L553.60,196.27 L553.90,197.50 L554.20,195.00 L554.46,195.04 L554.71,196.16 L554.97,198.45 L555.22,196.84 L555.48,195.65 L555.73,194.97 L555.99,196.18 L556.24,196.85 L556.50,197.20 L556.75,195.96 L557.00,194.25 L557.25,194.10 L557.50,191.71 L557.75,190.62 L558.00,190.50 L558.27,189.34 L558.55,186.48 L558.83,187.84 L559.10,188.39 L559.38,189.45 L559.65,186.76 L559.92,187.90 L560.20,187.83 L560.47,184.70 L560.75,186.42 L561.02,186.86 L561.30,186.70 L561.55,187.94 L561.80,190.93 L562.05,191.37 L562.30,192.04 L562.55,191.98 L562.80,195.00 L563.10,199.28 L563.40,202.83 L563.70,209.53 L564.00,213.70 L564.28,212.79 L564.57,208.36 L564.85,206.54 L565.13,203.70 L565.42,200.58 L565.70,199.50 L565.99,198.48 L566.27,196.32 L566.56,195.09 L566.84,197.27 L567.13,196.08 L567.41,195.90 L567.70,195.00 L567.96,194.11 L568.21,195.05 L568.47,194.80 L568.73,194.29 L568.99,190.56 L569.24,190.68 L569.50,191.20 L569.79,192.92 L570.07,193.36 L570.36,195.67 L570.64,197.46 L570.93,200.25 L571.21,201.40 L571.50,204.70 L571.77,203.78 L572.05,202.88 L572.33,200.20 L572.60,200.21 L572.88,197.90 L573.15,199.93 L573.43,199.47 L573.70,199.50 L573.97,200.83 L574.25,201.85 L574.52,200.05 L574.79,202.17 L575.06,200.32 L575.34,202.05 L575.61,204.60 L575.88,205.63 L576.15,205.03 L576.43,210.19 L576.70,209.20 L576.96,208.57 L577.21,205.05 L577.47,205.01 L577.72,206.22 L577.98,204.96 L578.23,203.12 L578.49,199.88 L578.74,201.27 L579.00,199.50 L579.27,201.67 L579.55,198.53 L579.83,197.87 L580.10,197.18 L580.38,199.17 L580.65,197.57 L580.93,198.55 L581.20,197.20 L581.49,196.98 L581.77,202.26 L582.06,201.86 L582.34,202.22 L582.63,204.42 L582.91,205.70 L583.20,207.00 L583.46,204.28 L583.71,206.17 L583.97,205.10 L584.23,206.44 L584.49,205.36 L584.74,203.16 L585.00,202.50 L585.28,207.88 L585.57,209.20 L585.85,209.85 L586.13,213.88 L586.42,213.35 L586.70,216.00 L586.96,218.16 L587.22,219.08 L587.48,220.64 L587.74,221.35 L588.00,220.50 L588.25,221.40 L588.50,224.71 L588.75,224.36 L589.00,224.07 L589.25,226.78 L589.50,228.00 L589.75,225.07 L590.00,223.07 L590.25,221.91 L590.50,220.23 L590.75,217.45 L591.00,216.00 L591.25,215.30 L591.50,215.04 L591.75,216.47 L592.00,215.13 L592.25,214.16 L592.50,213.70 L592.77,216.55 L593.05,218.18 L593.33,224.10 L593.60,226.27 L593.88,229.54 L594.15,229.74 L594.43,232.28 L594.70,235.50 L594.96,237.26 L595.21,232.73 L595.47,232.35 L595.72,232.30 L595.98,232.40 L596.23,231.25 L596.49,228.41 L596.74,229.59 L597.00,228.00 L597.27,227.30 L597.55,231.17 L597.83,234.11 L598.10,233.46 L598.38,233.72 L598.65,235.95 L598.93,239.01 L599.20,240.00 L599.47,240.34 L599.75,242.57 L600.02,243.46 L600.29,242.07 L600.56,240.61 L600.84,242.14 L601.11,241.96 L601.38,242.12 L601.65,240.81 L601.93,242.88 L602.20,244.50 L602.45,243.16 L602.70,240.84 L602.95,240.78 L603.20,237.15 L603.45,234.66 L603.70,232.50 L603.96,233.12 L604.21,235.63 L604.47,236.27 L604.72,236.84 L604.98,239.59 L605.23,242.22 L605.49,244.32 L605.74,243.99 L606.00,246.00 L606.25,249.17 L606.50,249.91 L606.75,251.02 L607.00,254.44 L607.25,257.83 L607.50,258.70 L607.76,254.91 L608.01,255.32 L608.27,251.71 L608.53,247.20 L608.79,248.87 L609.04,245.15 L609.30,243.00 L609.56,242.00 L609.82,244.29 L610.08,242.68 L610.35,238.93 L610.61,241.21 L610.87,242.97 L611.13,238.88 L611.39,239.47 L611.65,241.73 L611.92,240.09 L612.18,239.05 L612.44,243.10 L612.70,241.50 L612.96,240.61 L613.21,243.78 L613.47,242.99 L613.72,247.20 L613.98,243.25 L614.23,248.29 L614.49,247.43 L614.74,248.16 L615.00,249.70 L615.25,249.31 L615.50,248.95 L615.75,247.18 L616.00,244.52 L616.25,244.45 L616.50,243.00 L616.77,244.40 L617.05,245.17 L617.33,248.16 L617.60,251.23 L617.88,251.75 L618.15,253.72 L618.43,253.76 L618.70,256.50 L618.99,257.87 L619.27,258.84 L619.56,261.09 L619.84,258.53 L620.13,259.71 L620.41,262.71 L620.70,263.20 L620.98,261.63 L621.26,260.96 L621.53,256.20 L621.81,258.32 L622.09,254.97 L622.37,256.71 L622.64,254.98 L622.92,251.96 L623.20,251.20 L623.47,249.57 L623.75,251.08 L624.02,251.02 L624.29,250.08 L624.56,248.73 L624.84,249.68 L625.11,249.67 L625.38,247.08 L625.65,246.59 L625.93,245.83 L626.20,246.00 L626.46,243.34 L626.71,243.01 L626.97,244.80 L627.22,243.35 L627.48,241.89 L627.73,242.37 L627.99,237.81 L628.24,238.12 L628.50,237.00 L628.75,235.07 L629.00,233.75 L629.25,229.88 L629.50,225.82 L629.75,222.65 L630.00,219.70 L630.27,219.14 L630.55,219.41 L630.83,215.61 L631.10,213.52 L631.38,216.21 L631.65,211.18 L631.93,211.24 L632.20,210.70 L632.46,211.28 L632.71,211.03 L632.97,212.66 L633.22,212.79 L633.48,211.41 L633.73,213.65 L633.99,212.96 L634.24,208.54 L634.50,210.00 L634.80,205.52 L635.10,203.58 L635.40,201.49 L635.70,197.00 L635.97,197.83 L636.25,198.50 L636.52,194.93 L636.79,193.98 L637.06,196.27 L637.34,195.27 L637.61,194.35 L637.88,197.02 L638.15,193.76 L638.43,192.38 L638.70,195.50 L638.96,196.59 L639.21,197.61 L639.47,197.29 L639.72,199.95 L639.98,199.24 L640.23,201.06 L640.49,203.29 L640.74,204.73 L641.00,204.50 L641.25,206.41 L641.50,209.35 L641.75,212.03 L642.00,215.20 L642.25,219.53 L642.50,221.00 L642.75,219.38 L643.00,219.16 L643.25,218.89 L643.50,216.05 L643.75,215.53 L644.00,212.00 L644.25,213.54 L644.50,214.17 L644.75,215.53 L645.00,215.45 L645.25,216.35 L645.50,218.00 L645.76,219.12 L646.01,220.83 L646.27,219.76 L646.53,221.17 L646.79,221.28 L647.04,224.04 L647.30,224.00 L647.57,224.01 L647.84,221.03 L648.11,219.92 L648.39,220.47 L648.66,217.41 L648.93,214.14 L649.20,215.00 L649.46,212.10 L649.71,211.25 L649.97,207.81 L650.22,206.04 L650.48,207.99 L650.73,203.61 L650.99,203.32 L651.24,203.34 L651.50,200.70 L651.77,201.44 L652.05,201.83 L652.33,202.17 L652.60,203.86 L652.88,204.06 L653.15,205.64 L653.43,205.87 L653.70,207.50 L653.96,205.51 L654.22,206.15 L654.48,208.11 L654.74,206.19 L655.00,203.41 L655.26,202.86 L655.52,204.51 L655.78,201.39 L656.04,202.50 L656.30,201.50 L656.57,202.65 L656.84,204.43 L657.11,207.49 L657.39,205.02 L657.66,209.62 L657.93,209.77 L658.20,212.00 L658.46,212.15 L658.71,209.56 L658.97,209.45 L659.22,208.14 L659.48,205.97 L659.73,208.69 L659.99,205.87 L660.24,200.85 L660.50,200.00 L660.77,198.52 L661.05,198.28 L661.32,193.54 L661.59,190.46 L661.86,192.77 L662.14,194.69 L662.41,191.33 L662.68,190.19 L662.95,190.31 L663.23,187.90 L663.50,188.00 L663.77,187.06 L664.05,188.27 L664.33,189.03 L664.60,186.38 L664.88,188.44 L665.15,191.14 L665.43,190.70 L665.70,189.50 L665.99,190.17 L666.27,189.53 L666.56,192.94 L666.84,192.03 L667.13,193.93 L667.41,195.89 L667.70,195.50 L667.96,194.13 L668.21,195.24 L668.47,192.13 L668.73,190.59 L668.99,192.66 L669.24,189.04 L669.50,188.70 L669.77,190.08 L670.05,189.64 L670.33,189.47 L670.60,191.62 L670.88,189.93 L671.15,192.29 L671.43,193.77 L671.70,192.50 L671.95,192.52 L672.20,190.42 L672.45,188.21 L672.70,184.98 L672.95,184.82 L673.20,184.20 L673.46,185.66 L673.71,185.42 L673.97,186.20 L674.22,185.49 L674.48,185.77 L674.73,183.55 L674.99,183.66 L675.24,186.89 L675.50,184.20 L675.78,184.39 L676.06,186.41 L676.33,185.56 L676.61,186.13 L676.89,186.59 L677.17,188.03 L677.44,188.69 L677.72,188.07 L678.00,191.70 L678.29,192.75 L678.57,189.19 L678.86,187.45 L679.14,186.89 L679.43,188.06 L679.71,184.93 L680.00,185.00 L680.25,181.75 L680.50,183.35 L680.75,183.78 L681.00,180.28 L681.25,179.00 L681.50,179.00 L681.75,178.66 L682.00,181.72 L682.25,180.33 L682.50,179.98 L682.75,180.56 L683.00,181.20 L683.25,179.33 L683.50,179.48 L683.75,174.95 L684.00,174.32 L684.25,170.36 L684.50,171.50 L684.77,170.88 L685.05,170.24 L685.33,170.19 L685.60,167.51 L685.88,166.79 L686.15,165.94 L686.43,166.02 L686.70,166.20 L686.95,168.12 L687.20,168.61 L687.45,171.21 L687.70,170.86 L687.95,170.41 L688.20,171.50 L688.48,176.45 L688.75,181.84 L689.02,186.24 L689.30,189.50 L689.57,186.88 L689.84,182.94 L690.11,180.96 L690.39,177.54 L690.66,174.57 L690.93,172.86 L691.20,167.00 L691.46,165.92 L691.71,166.80 L691.97,163.70 L692.23,161.35 L692.49,160.55 L692.74,157.71 L693.00,155.00 L693.29,155.91 L693.57,155.05 L693.86,155.69 L694.14,157.46 L694.43,158.13 L694.71,159.70 L695.00,158.70 L695.30,161.97 L695.60,165.88 L695.90,166.57 L696.20,170.00 L696.45,174.26 L696.70,176.02 L696.95,180.79 L697.20,185.69 L697.45,186.95 L697.70,193.20 L697.96,193.37 L698.21,190.73 L698.47,188.44 L698.73,188.54 L698.99,185.50 L699.24,183.95 L699.50,182.00 L699.77,179.62 L700.05,179.28 L700.33,177.07 L700.60,179.15 L700.88,176.55 L701.15,177.65 L701.43,175.91 L701.70,174.50 L701.96,171.30 L702.21,172.70 L702.47,175.34 L702.72,174.37 L702.98,172.95 L703.23,172.29 L703.49,170.79 L703.74,170.18 L704.00,170.00 L704.27,170.20 L704.55,169.30 L704.83,166.80 L705.10,165.57 L705.38,162.71 L705.65,165.41 L705.93,162.06 L706.20,160.20 L706.46,159.45 L706.71,160.12 L706.97,162.02 L707.22,164.75 L707.48,163.87 L707.73,163.38 L707.99,164.26 L708.24,164.60 L708.50,166.20 L708.75,163.90 L709.00,163.52 L709.25,161.73 L709.50,162.57 L709.75,156.93 L710.00,156.50 L710.27,156.44 L710.55,154.11 L710.83,155.84 L711.10,153.80 L711.38,155.47 L711.65,151.66 L711.93,151.03 L712.20,151.20 L712.45,150.27 L712.70,146.85 L712.95,147.05 L713.20,144.04 L713.45,140.91 L713.70,140.00 L714.00,133.62 L714.30,131.06 L714.60,125.00 L714.87,121.82 L715.13,119.95 L715.40,115.59 L715.67,113.06 L715.93,109.79 L716.20,106.20 L716.45,104.70 L716.70,106.65 L716.95,106.25 L717.20,105.50 L717.48,106.86 L717.75,111.42 L718.02,116.06 L718.30,119.70 L718.57,117.71 L718.84,115.15 L719.11,113.81 L719.39,109.95 L719.66,108.00 L719.93,105.72 L720.20,104.00 L720.45,105.73 L720.70,107.26 L720.95,109.17 L721.20,110.51 L721.45,112.64 L721.70,113.00 L721.95,112.68 L722.20,109.19 L722.45,107.19 L722.70,104.85 L722.95,106.91 L723.20,104.00 L723.48,107.36 L723.75,107.64 L724.02,108.34 L724.30,110.70 L724.55,105.22 L724.80,108.65 L725.05,106.92 L725.30,103.89 L725.55,102.89 L725.80,102.50 L726.05,106.34 L726.30,105.61 L726.55,111.94 L726.80,114.46 L727.05,117.07 L727.30,119.70 L727.55,119.65 L727.80,119.95 L728.05,118.76 L728.30,118.09 L728.55,115.86 L728.80,113.70 L729.05,113.67 L729.30,114.75 L729.55,115.19 L729.80,115.39 L730.05,117.11 L730.30,117.50 L730.57,115.39 L730.83,115.05 L731.10,113.33 L731.37,113.20 L731.63,112.29 L731.90,110.00 L732.17,107.60 L732.43,105.63 L732.70,102.50 L732.96,104.58 L733.23,105.56 L733.49,107.37 L733.75,110.69 L734.01,109.41 L734.27,110.41 L734.54,112.83 L734.80,113.00 L735.07,112.01 L735.33,109.90 L735.60,109.07 L735.87,108.23 L736.13,107.65 L736.40,102.99 L736.67,102.97 L736.93,101.30 L737.20,98.00 L737.45,100.53 L737.70,102.34 L737.95,100.94 L738.20,101.93 L738.45,103.79 L738.70,104.00 L738.96,103.21 L739.21,104.59 L739.47,103.41 L739.73,103.69 L739.99,105.11 L740.24,104.58 L740.50,105.50 L740.77,103.18 L741.05,101.79 L741.33,100.78 L741.60,99.31 L741.88,98.94 L742.15,100.34 L742.43,98.83 L742.70,99.50 L742.96,101.39 L743.21,96.04 L743.47,95.28 L743.72,98.44 L743.98,95.74 L744.23,94.93 L744.49,93.16 L744.74,92.19 L745.00,92.00 L745.26,91.74 L745.51,89.27 L745.77,91.06 L746.03,90.26 L746.29,90.05 L746.54,89.92 L746.80,89.00 L747.10,83.71 L747.40,79.89 L747.70,72.50 L747.95,74.07 L748.20,71.34 L748.45,70.50 L748.70,70.20 L748.98,69.85 L749.25,72.86 L749.52,73.65 L749.80,75.50 L750.10,72.66 L750.40,70.69 L750.70,66.84 L751.00,63.50 L751.30,65.03 L751.60,70.61 L751.90,72.17 L752.20,74.70 L752.45,71.03 L752.70,69.25 L752.95,65.52 L753.20,61.89 L753.45,60.64 L753.70,57.50 L753.96,58.03 L754.21,59.05 L754.47,58.85 L754.73,59.19 L754.99,60.19 L755.24,61.16 L755.50,62.00 L755.73,66.33 L755.97,74.34 L756.20,77.00 L756.47,77.62 L756.73,78.86 L757.00,82.20 L757.23,82.53 L757.47,80.02 L757.70,78.50 L757.97,85.37 L758.23,93.40 L758.50,100.20 L758.77,98.51 L759.05,99.65 L759.33,98.46 L759.60,98.18 L759.88,92.16 L760.15,94.06 L760.43,91.04 L760.70,91.20 L760.97,95.65 L761.23,96.35 L761.50,100.20 L761.75,97.59 L762.00,96.15 L762.25,94.75 L762.50,92.22 L762.75,87.80 L763.00,87.50 L763.25,90.13 L763.50,90.52 L763.75,90.10 L764.00,92.46 L764.25,94.04 L764.50,95.00 L764.77,92.31 L765.05,91.04 L765.33,89.14 L765.60,87.63 L765.88,87.02 L766.15,85.71 L766.43,83.47 L766.70,81.50 L766.96,81.59 L767.22,83.36 L767.48,84.85 L767.74,85.39 L768.00,84.17 L768.26,85.83 L768.52,87.08 L768.78,87.32 L769.04,87.63 L769.30,89.00 L769.57,86.18 L769.84,83.16 L770.11,84.47 L770.39,80.10 L770.66,79.45 L770.93,78.31 L771.20,74.70 L771.46,74.82 L771.71,73.40 L771.97,74.65 L772.23,73.03 L772.49,70.17 L772.74,69.67 L773.00,70.20 L773.26,69.76 L773.51,71.11 L773.77,73.03 L774.02,73.33 L774.28,76.10 L774.53,76.40 L774.79,77.03 L775.04,77.41 L775.30,79.20 L775.57,76.19 L775.84,73.27 L776.11,71.25 L776.39,68.95 L776.66,68.09 L776.93,69.26 L777.20,66.50 L777.46,66.39 L777.71,67.22 L777.97,69.33 L778.22,69.22 L778.48,71.68 L778.73,71.49 L778.99,71.36 L779.24,71.01 L779.50,72.50 L779.77,70.70 L780.04,70.52 L780.31,71.00 L780.59,68.03 L780.86,67.84 L781.13,66.85 L781.40,64.20 L781.67,67.26 L781.95,71.64 L782.23,76.43 L782.50,80.70 L782.77,80.13 L783.05,78.71 L783.33,74.66 L783.60,75.05 L783.88,74.08 L784.15,71.69 L784.43,72.56 L784.70,69.50 L784.99,71.45 L785.27,71.93 L785.56,75.03 L785.84,76.68 L786.13,79.40 L786.41,79.84 L786.70,80.70 L786.96,80.14 L787.23,76.54 L787.49,78.06 L787.75,76.58 L788.01,77.57 L788.27,74.75 L788.54,73.63 L788.80,74.00 L789.07,73.70 L789.34,73.26 L789.61,72.68 L789.89,75.84 L790.16,73.73 L790.43,73.81 L790.70,74.00 L790.95,75.55 L791.20,75.34 L791.45,76.73 L791.70,79.27 L791.95,81.45 L792.20,80.00 L792.47,79.37 L792.75,82.32 L793.02,81.21 L793.29,80.08 L793.56,76.58 L793.84,80.84 L794.11,79.34 L794.38,78.39 L794.65,81.66 L794.93,83.97 L795.20,83.00 L795.46,82.73 L795.71,80.92 L795.97,80.29 L796.22,80.43 L796.48,78.44 L796.73,76.33 L796.99,77.33 L797.24,75.72 L797.50,75.50 L797.77,76.63 L798.05,77.19 L798.33,77.00 L798.60,77.30 L798.88,76.38 L799.15,75.78 L799.43,77.65 L799.70,77.70 L799.97,78.01 L800.25,76.06 L800.52,75.74 L800.79,75.08 L801.06,72.42 L801.34,70.23 L801.61,73.03 L801.88,69.69 L802.15,70.40 L802.43,70.76 L802.70,70.20 L802.96,71.22 L803.21,72.55 L803.47,71.88 L803.72,73.36 L803.98,72.07 L804.23,70.98 L804.49,70.78 L804.74,71.88 L805.00,72.50 L805.26,72.17 L805.51,74.10 L805.77,71.69 L806.03,71.44 L806.29,69.89 L806.54,71.08 L806.80,68.70 L807.05,69.31 L807.30,69.21 L807.55,73.72 L807.80,73.69 L808.05,78.44 L808.30,78.50 L808.57,77.60 L808.84,77.01 L809.11,77.14 L809.39,76.05 L809.66,76.20 L809.93,75.67 L810.20,77.00 L810.45,79.45 L810.70,79.56 L810.95,82.11 L811.20,85.41 L811.45,86.83 L811.70,87.50 L811.95,86.11 L812.20,86.81 L812.45,88.13 L812.70,86.66 L812.95,87.53 L813.20,87.50 L813.49,89.49 L813.77,93.21 L814.06,92.81 L814.34,91.50 L814.63,95.89 L814.91,97.14 L815.20,98.70 L815.48,98.24 L815.76,99.68 L816.03,99.91 L816.31,101.19 L816.59,100.92 L816.87,102.85 L817.14,102.45 L817.42,100.39 L817.70,104.00 L817.96,101.98 L818.21,102.04 L818.47,102.93 L818.72,99.07 L818.98,99.53 L819.23,99.87 L819.49,99.07 L819.74,98.96 L820.00,97.20 L820.25,97.46 L820.50,100.73 L820.75,105.62 L821.00,106.92 L821.25,110.99 L821.50,113.00 L821.75,116.13 L822.00,120.94 L822.25,124.28 L822.50,127.00 L822.80,124.61 L823.10,120.03 L823.40,116.93 L823.70,113.20 L823.96,111.58 L824.21,116.08 L824.47,118.18 L824.72,115.88 L824.98,115.46 L825.23,118.10 L825.49,116.69 L825.74,120.18 L826.00,120.00 L826.27,120.77 L826.55,123.71 L826.83,128.54 L827.10,126.76 L827.38,127.96 L827.65,128.98 L827.93,127.31 L828.20,130.50 L828.45,133.70 L828.70,135.04 L828.95,140.56 L829.20,142.95 L829.45,145.87 L829.70,147.70 L829.96,145.83 L830.21,143.17 L830.47,144.13 L830.72,139.92 L830.98,138.87 L831.23,137.83 L831.49,135.12 L831.74,135.64 L832.00,133.50 L832.27,134.29 L832.55,132.98 L832.83,131.55 L833.10,131.94 L833.38,128.79 L833.65,128.86 L833.93,127.33 L834.20,126.00 L834.46,125.97 L834.71,127.31 L834.97,122.58 L835.22,121.85 L835.48,120.22 L835.73,119.21 L835.99,118.63 L836.24,115.61 L836.50,114.70 L836.77,114.56 L837.05,114.53 L837.33,108.85 L837.60,111.66 L837.88,108.99 L838.15,108.23 L838.43,108.32 L838.70,108.00 L838.97,107.15 L839.24,108.97 L839.51,107.61 L839.78,103.86 L840.05,102.98 L840.32,102.88 L840.59,99.34 L840.86,100.05 L841.13,99.63 L841.40,98.20 L841.66,98.00 L841.91,99.60 L842.17,101.08 L842.43,100.81 L842.69,102.57 L842.94,103.60 L843.20,105.00 L843.47,104.52 L843.74,106.74 L844.01,108.12 L844.28,107.79 L844.55,107.92 L844.82,107.78 L845.08,108.38 L845.35,106.62 L845.62,107.34 L845.89,108.62 L846.16,109.06 L846.43,109.22 L846.70,110.20 L846.98,107.54 L847.26,109.20 L847.53,110.96 L847.81,106.53 L848.09,108.15 L848.37,107.21 L848.64,105.61 L848.92,103.32 L849.20,105.70 L849.46,109.69 L849.71,108.49 L849.97,110.03 L850.22,110.56 L850.48,113.78 L850.73,114.11 L850.99,114.78 L851.24,115.13 L851.50,115.50 L851.77,114.15 L852.05,114.10 L852.33,113.22 L852.60,115.98 L852.88,114.61 L853.15,114.83 L853.43,115.37 L853.70,115.50 L853.96,115.03 L854.21,117.47 L854.47,118.27 L854.72,120.84 L854.98,123.65 L855.23,124.46 L855.49,123.47 L855.74,126.69 L856.00,126.00 L856.27,125.91 L856.55,129.05 L856.83,128.70 L857.10,134.26 L857.38,132.16 L857.65,131.53 L857.93,130.45 L858.20,133.50 L858.45,132.68 L858.70,132.22 L858.95,130.41 L859.20,128.97 L859.45,127.15 L859.70,126.70 L859.96,128.59 L860.22,130.87 L860.48,132.59 L860.74,133.34 L861.00,132.41 L861.26,136.56 L861.52,136.65 L861.78,140.03 L862.04,139.50 L862.30,141.00 L862.57,136.91 L862.84,138.09 L863.11,133.99 L863.39,133.54 L863.66,131.14 L863.93,128.69 L864.20,125.20 L864.47,126.17 L864.75,125.93 L865.02,128.85 L865.29,128.61 L865.56,131.65 L865.84,131.35 L866.11,130.88 L866.38,130.56 L866.65,132.73 L866.93,132.94 L867.20,134.20 L867.49,132.31 L867.77,130.52 L868.06,130.30 L868.34,129.94 L868.63,126.88 L868.91,127.15 L869.20,125.20 L869.48,124.47 L869.75,125.41 L870.02,128.34 L870.30,131.72 L870.58,131.31 L870.85,132.24 L871.12,133.05 L871.40,135.00 L871.66,134.41 L871.92,132.44 L872.18,133.56 L872.44,130.47 L872.70,129.59 L872.96,126.87 L873.22,127.92 L873.48,126.41 L873.74,126.38 L874.00,124.50 L874.27,124.51 L874.55,121.57 L874.83,121.84 L875.10,120.15 L875.38,118.50 L875.65,117.00 L875.93,116.22 L876.20,116.20 L876.46,117.23 L876.71,115.96 L876.97,111.84 L877.22,114.81 L877.48,114.83 L877.73,115.41 L877.99,117.19 L878.24,113.23 L878.50,114.00 L878.77,112.08 L879.05,116.28 L879.32,115.65 L879.59,115.29 L879.86,117.82 L880.14,116.88 L880.41,118.30 L880.68,118.35 L880.95,119.41 L881.23,117.84 L881.50,120.00 L881.77,122.92 L882.04,119.45 L882.31,121.55 L882.58,121.48 L882.85,120.77 L883.12,119.74 L883.39,122.68 L883.66,122.77 L883.93,122.34 L884.20,122.20 L884.48,121.55 L884.75,123.65 L885.02,126.55 L885.30,126.44 L885.58,125.73 L885.85,129.40 L886.12,130.76 L886.40,132.00 L886.66,129.94 L886.91,128.62 L887.17,129.21 L887.43,128.13 L887.69,127.33 L887.94,124.24 L888.20,124.50 L888.49,125.16 L888.77,122.20 L889.06,125.04 L889.34,123.70 L889.63,123.84 L889.91,121.77 L890.20,122.20 L890.46,122.53 L890.73,124.34 L890.99,126.51 L891.25,128.36 L891.51,128.23 L891.77,131.33 L892.04,133.69 L892.30,133.50 L892.56,134.29 L892.82,133.08 L893.08,136.88 L893.35,138.70 L893.61,136.28 L893.87,137.59 L894.13,136.94 L894.39,137.41 L894.65,139.37 L894.92,137.52 L895.18,138.95 L895.44,140.15 L895.70,138.00 L895.96,138.84 L896.21,139.07 L896.47,140.33 L896.72,140.02 L896.98,140.86 L897.23,139.57 L897.49,139.79 L897.74,140.34 L898.00,139.50 L898.27,140.89 L898.55,141.32 L898.83,140.26 L899.10,140.09 L899.38,140.34 L899.65,143.59 L899.93,143.75 L900.20,143.20 L900.45,141.89 L900.70,140.34 L900.95,138.92 L901.20,137.41 L901.45,134.24 L901.70,134.20 L901.97,136.45 L902.25,135.34 L902.52,138.04 L902.79,135.24 L903.06,138.11 L903.34,140.28 L903.61,138.98 L903.88,140.42 L904.15,139.87 L904.43,139.81 L904.70,138.70 L904.96,138.69 L905.21,137.59 L905.47,137.80 L905.72,140.02 L905.98,140.27 L906.23,140.70 L906.49,139.97 L906.74,140.23 L907.00,139.50 L907.25,139.69 L907.50,140.25 L907.75,139.26 L908.00,141.32 L908.25,143.42 L908.50,142.50 L908.75,138.26 L909.00,141.80 L909.25,139.68 L909.50,138.78 L909.75,137.35 L910.00,137.20 L910.26,136.98 L910.51,136.61 L910.77,137.60 L911.03,139.08 L911.29,141.01 L911.54,142.09 L911.80,144.00 L912.07,144.33 L912.34,150.10 L912.61,148.74 L912.89,151.02 L913.16,152.26 L913.43,151.82 L913.70,154.50 L913.95,152.20 L914.20,152.36 L914.45,150.67 L914.70,150.08 L914.95,148.10 L915.20,147.00 L915.47,149.38 L915.75,148.25 L916.02,149.56 L916.29,149.59 L916.56,152.89 L916.84,152.12 L917.11,156.10 L917.38,154.14 L917.65,155.58 L917.93,156.14 L918.20,156.00 L918.47,155.95 L918.74,156.36 L919.01,157.05 L919.29,154.11 L919.56,156.40 L919.83,156.72 L920.10,155.62 L920.37,156.30 L920.64,154.33 L920.91,154.64 L921.19,155.28 L921.46,154.51 L921.73,151.72 L922.00,153.70 L922.29,156.76 L922.57,158.87 L922.86,159.25 L923.14,162.02 L923.43,161.92 L923.71,165.83 L924.00,167.20 L924.28,163.46 L924.56,164.12 L924.83,162.17 L925.11,162.32 L925.39,160.66 L925.67,159.25 L925.94,158.59 L926.22,157.99 L926.50,156.00 L926.77,157.26 L927.05,157.02 L927.33,155.83 L927.60,155.35 L927.88,155.33 L928.15,157.33 L928.43,155.51 L928.70,156.00 L928.97,158.97 L929.25,159.41 L929.52,158.86 L929.79,160.94 L930.06,163.40 L930.34,161.59 L930.61,163.04 L930.88,163.62 L931.15,162.35 L931.43,162.27 L931.70,163.50 L931.96,165.52 L932.21,166.29 L932.47,167.07 L932.72,165.89 L932.98,169.26 L933.23,170.21 L933.49,171.14 L933.74,172.20 L934.00,171.00 L934.25,169.27 L934.50,170.73 L934.75,169.34 L935.00,170.19 L935.25,167.69 L935.50,167.00 L935.77,166.89 L936.05,169.65 L936.33,172.56 L936.60,174.66 L936.88,176.42 L937.15,177.05 L937.43,175.88 L937.70,177.50 L937.96,177.44 L938.21,179.08 L938.47,180.81 L938.72,180.19 L938.98,181.31 L939.23,181.60 L939.49,185.20 L939.74,184.14 L940.00,185.00 L940.29,186.08 L940.57,189.33 L940.86,191.69 L941.14,195.55 L941.43,198.64 L941.71,201.51 L942.00,203.00 L942.28,198.93 L942.57,195.39 L942.85,195.25 L943.13,191.04 L943.42,190.39 L943.70,185.70 L943.96,184.33 L944.21,182.05 L944.47,184.04 L944.72,183.78 L944.98,181.76 L945.23,180.40 L945.49,178.95 L945.74,178.24 L946.00,177.50 L946.27,175.10 L946.55,176.88 L946.83,174.12 L947.10,171.96 L947.38,171.40 L947.65,171.76 L947.92,170.99 L948.20,171.44 L948.47,170.34 L948.75,169.63 L949.02,166.27 L949.30,167.00 L949.57,167.31 L949.84,168.12 L950.11,168.69 L950.38,171.14 L950.65,174.53 L950.92,171.58 L951.19,173.83 L951.46,172.81 L951.73,175.11 L952.00,174.50 L952.23,174.30 L952.47,171.94 L952.70,170.70 L952.99,169.77 L953.27,170.74 L953.56,173.54 L953.84,174.79 L954.13,175.71 L954.41,174.95 L954.70,176.70 L954.96,176.08 L955.23,171.78 L955.49,170.03 L955.75,170.87 L956.01,170.55 L956.27,167.90 L956.54,168.71 L956.80,165.50 L957.07,167.10 L957.34,167.24 L957.61,163.69 L957.89,162.58 L958.16,162.15 L958.43,162.80 L958.70,162.20 L958.99,160.82 L959.27,162.56 L959.56,162.57 L959.84,162.48 L960.13,163.44 L960.41,163.29 L960.70,162.50 L960.95,164.70 L961.20,166.95 L961.45,164.07 L961.70,165.00 L961.95,167.14 L962.20,168.50 L962.48,167.17 L962.76,170.27 L963.03,169.27 L963.31,169.69 L963.59,169.68 L963.87,170.37 L964.14,171.51 L964.42,171.12 L964.70,170.70 L964.96,170.25 L965.21,174.49 L965.47,172.68 L965.72,173.60 L965.98,173.52 L966.23,178.84 L966.49,176.35 L966.74,175.74 L967.00,178.20 L967.25,177.16 L967.50,178.34 L967.75,178.74 L968.00,181.17 L968.25,181.75 L968.50,182.00 L968.77,181.47 L969.05,180.85 L969.33,178.29 L969.60,179.38 L969.88,178.51 L970.15,176.69 L970.43,177.66 L970.70,178.20 L970.95,179.98 L971.20,179.63 L971.45,181.61 L971.70,184.59 L971.95,186.10 L972.20,186.50 L972.46,188.42 L972.71,187.50 L972.97,187.01 L973.22,186.76 L973.48,190.55 L973.73,189.87 L973.99,189.06 L974.24,188.60 L974.50,189.50 L974.77,189.82 L975.05,190.39 L975.32,189.56 L975.59,190.99 L975.86,188.18 L976.14,190.15 L976.41,191.72 L976.68,191.19 L976.95,192.56 L977.23,191.28 L977.50,191.70 L977.77,192.20 L978.05,191.22 L978.33,193.80 L978.60,193.97 L978.88,197.92 L979.15,196.01 L979.43,198.83 L979.70,198.50 L979.95,199.20 L980.20,198.71 L980.45,196.81 L980.70,198.39 L980.95,200.43 L981.20,200.00 L981.50,199.70 L981.80,197.55 L982.10,197.76 L982.40,197.00 L982.67,187.51 L982.93,178.48 L983.20,170.00 L983.50,159.64 L983.80,147.50 L984.07,143.96 L984.33,143.03 L984.60,139.00 L984.83,144.10 L985.07,150.10 L985.30,152.00 L985.60,155.18 L985.90,158.03 L986.20,157.78 L986.50,163.20 L986.75,161.91 L987.00,158.29 L987.25,157.38 L987.50,155.55 L987.75,155.43 L988.00,153.50 L988.25,152.14 L988.50,149.03 L988.75,151.10 L989.00,149.31 L989.25,147.80 L989.50,146.00 L989.75,146.68 L990.00,144.40 L990.25,144.98 L990.50,143.00 L990.80,146.40 L991.10,148.95 L991.40,150.54 L991.70,155.00 L991.95,156.17 L992.20,157.57 L992.45,159.52 L992.70,159.02 L992.95,159.16 L993.20,160.20 L993.45,157.47 L993.70,158.34 L993.95,157.40 L994.20,157.82 L994.45,154.61 L994.70,154.20 L994.96,152.96 L995.22,152.81 L995.48,151.85 L995.74,150.14 L996.00,148.20 L996.26,151.21 L996.52,153.02 L996.78,153.91 L997.04,156.74 L997.30,155.00 L997.57,154.18 L997.84,154.25 L998.11,154.66 L998.39,154.51 L998.66,153.73 L998.93,153.03 L999.20,153.50 L999.47,156.79 L999.73,160.36 L1000.00,164.00 L1000.23,162.20 L1000.47,165.48 L1000.70,165.20" fill="none" stroke="#f6685e" stroke-width="2.9" stroke-linejoin="round" stroke-linecap="round"/>
<text id="title" x="558" y="34.4" text-anchor="middle" font-size="21.77" font-weight="700" fill="#333">中证偏股基金指数及3年滚动年化收益率</text>
<text id="sub" x="557.3" y="399.3" text-anchor="middle" font-size="16.4" font-weight="300" fill="#808080">3年滚动年化收益率</text>
<text id="foot" y="579.3" font-size="13.9" font-weight="300" fill="#808080" xml:space="preserve"><tspan x="374.3">数据来源:</tspan><tspan x="434.6">Wind</tspan><tspan x="466.0">金融数据终端  </tspan><tspan x="555.0">制图:</tspan><tspan x="586.6" textLength="44.5" lengthAdjust="spacingAndGlyphs">EarlETF</tspan><tspan> </tspan><tspan x="634.8">截至:</tspan><tspan x="667.2" textLength="73" lengthAdjust="spacingAndGlyphs">2025/01/09</tspan></text>
<g font-size="16.9" fill="#6f6f6f" text-anchor="end">
<text class="yt" x="56.1" y="79">2000</text>
<text class="yt" x="56.1" y="143">1500</text>
<text class="yt" x="56.1" y="234">1000</text>
<text class="yt" x="58.6" y="258">900</text>
<text class="yt" x="58.6" y="285">800</text>
<text class="yt" x="58.6" y="314">700</text>
<text class="yt" x="58.6" y="349">600</text>
<text class="yt" x="56.1" y="441">25</text>
<text class="yt" x="56.1" y="485">0</text>
</g>
<g font-size="16.95" fill="#6f6f6f" text-anchor="end">
<text class="xt" transform="translate(176.2,541.6) rotate(-30)">2012</text>
<text class="xt" transform="translate(302.7,541.6) rotate(-30)">2014</text>
<text class="xt" transform="translate(428.7,541.6) rotate(-30)">2016</text>
<text class="xt" transform="translate(555.2,541.6) rotate(-30)">2018</text>
<text class="xt" transform="translate(681.2,541.6) rotate(-30)">2020</text>
<text class="xt" transform="translate(808.2,541.6) rotate(-30)">2022</text>
<text class="xt" transform="translate(934.2,541.6) rotate(-30)">2024</text>
</g>
<text id="ann" x="1001.6" y="498.2" textLength="53" lengthAdjust="spacingAndGlyphs" font-size="16.95" fill="#333">-10.5%</text>
</svg>
</body></html>
